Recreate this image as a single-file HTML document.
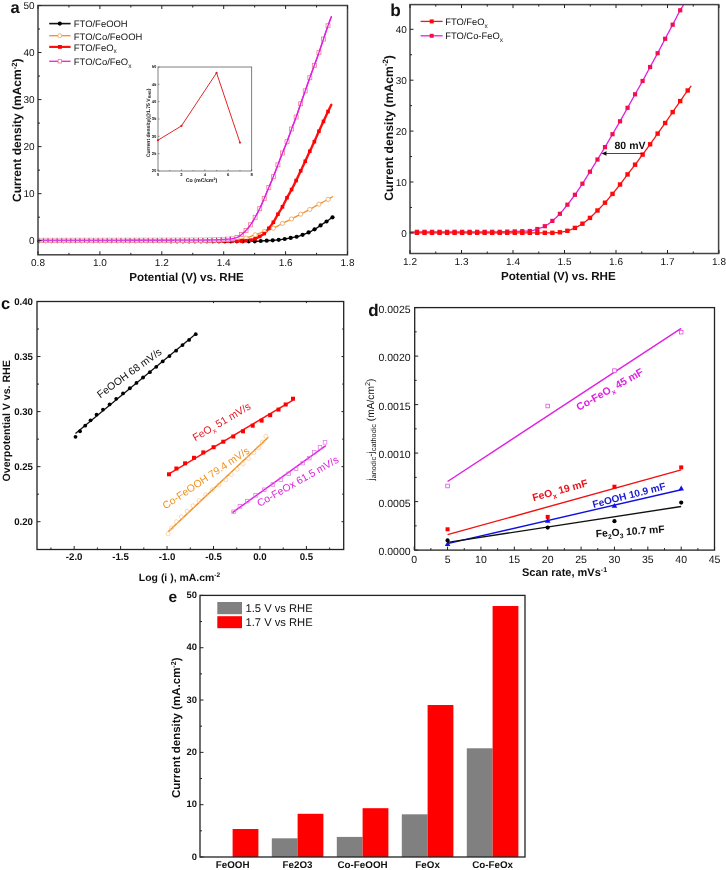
<!DOCTYPE html>
<html><head><meta charset="utf-8"><title>Figure</title>
<style>
html,body{margin:0;padding:0;background:#fff;}
body{width:726px;height:870px;overflow:hidden;font-family:"Liberation Sans",sans-serif;}
svg{display:block;will-change:transform;filter:blur(0.35px);}
</style></head>
<body>
<svg width="726" height="870" viewBox="0 0 726 870" font-family="Liberation Sans, sans-serif" text-rendering="geometricPrecision">
<rect width="726" height="870" fill="#fff"/>
<path d="M38,241.2 L38.5,241.2 L39,241.2 L39.5,241.2 L40,241.2 L40.5,241.2 L41,241.2 L41.5,241.2 L42,241.2 L42.5,241.2 L43,241.2 L43.5,241.2 L44,241.2 L44.5,241.2 L45,241.2 L45.5,241.2 L46,241.2 L46.5,241.2 L47,241.2 L47.5,241.2 L48,241.2 L48.5,241.21 L49,241.21 L49.5,241.21 L50,241.21 L50.5,241.21 L51,241.21 L51.5,241.21 L52,241.21 L52.5,241.21 L53,241.21 L53.5,241.21 L54,241.21 L54.5,241.21 L55,241.21 L55.5,241.21 L56,241.21 L56.5,241.21 L57,241.21 L57.5,241.21 L58,241.21 L58.5,241.21 L59,241.21 L59.5,241.21 L60,241.21 L60.5,241.21 L61,241.21 L61.5,241.21 L62,241.21 L62.5,241.21 L63,241.21 L63.5,241.21 L64,241.21 L64.5,241.21 L65,241.21 L65.5,241.21 L66,241.21 L66.5,241.21 L67,241.21 L67.5,241.22 L68,241.22 L68.5,241.22 L69,241.22 L69.5,241.22 L70,241.22 L70.5,241.22 L71,241.22 L71.5,241.22 L72,241.22 L72.5,241.22 L73,241.22 L73.5,241.22 L74,241.22 L74.5,241.22 L75,241.22 L75.5,241.22 L76,241.22 L76.5,241.22 L77,241.22 L77.5,241.22 L78,241.22 L78.5,241.22 L79,241.22 L79.5,241.22 L80,241.22 L80.5,241.22 L81,241.22 L81.5,241.22 L82,241.22 L82.5,241.22 L83,241.22 L83.5,241.22 L84,241.22 L84.5,241.23 L85,241.23 L85.5,241.23 L86,241.23 L86.5,241.23 L87,241.23 L87.5,241.23 L88,241.23 L88.5,241.23 L89,241.23 L89.5,241.23 L90,241.23 L90.5,241.23 L91,241.23 L91.5,241.23 L92,241.23 L92.5,241.23 L93,241.23 L93.5,241.23 L94,241.23 L94.5,241.23 L95,241.23 L95.5,241.23 L96,241.23 L96.5,241.23 L97,241.23 L97.5,241.23 L98,241.23 L98.5,241.23 L99,241.23 L99.5,241.23 L100,241.23 L100.5,241.23 L101,241.24 L101.5,241.24 L102,241.24 L102.5,241.24 L103,241.24 L103.5,241.24 L104,241.24 L104.5,241.24 L105,241.24 L105.5,241.24 L106,241.24 L106.5,241.24 L107,241.24 L107.5,241.24 L108,241.24 L108.5,241.24 L109,241.24 L109.5,241.24 L110,241.24 L110.5,241.24 L111,241.24 L111.5,241.24 L112,241.24 L112.5,241.24 L113,241.24 L113.5,241.24 L114,241.24 L114.5,241.24 L115,241.24 L115.5,241.24 L116,241.24 L116.5,241.24 L117,241.24 L117.5,241.25 L118,241.25 L118.5,241.25 L119,241.25 L119.5,241.25 L120,241.25 L120.5,241.25 L121,241.25 L121.5,241.25 L122,241.25 L122.5,241.25 L123,241.25 L123.5,241.25 L124,241.25 L124.5,241.25 L125,241.25 L125.5,241.25 L126,241.25 L126.5,241.25 L127,241.25 L127.5,241.25 L128,241.25 L128.5,241.25 L129,241.25 L129.5,241.25 L130,241.25 L130.5,241.25 L131,241.25 L131.5,241.25 L132,241.25 L132.5,241.25 L133,241.25 L133.5,241.25 L134,241.26 L134.5,241.26 L135,241.26 L135.5,241.26 L136,241.26 L136.5,241.26 L137,241.26 L137.5,241.26 L138,241.26 L138.5,241.26 L139,241.26 L139.5,241.26 L140,241.26 L140.5,241.26 L141,241.26 L141.5,241.26 L142,241.26 L142.5,241.26 L143,241.26 L143.5,241.26 L144,241.26 L144.5,241.26 L145,241.26 L145.5,241.26 L146,241.26 L146.5,241.26 L147,241.26 L147.5,241.26 L148,241.26 L148.5,241.26 L149,241.26 L149.5,241.26 L150,241.26 L150.5,241.26 L151,241.27 L151.5,241.27 L152,241.27 L152.5,241.27 L153,241.27 L153.5,241.27 L154,241.27 L154.5,241.27 L155,241.27 L155.5,241.27 L156,241.27 L156.5,241.27 L157,241.27 L157.5,241.27 L158,241.27 L158.5,241.27 L159,241.27 L159.5,241.27 L160,241.27 L160.5,241.27 L161,241.27 L161.5,241.27 L162,241.27 L162.5,241.27 L163,241.27 L163.5,241.27 L164,241.27 L164.5,241.27 L165,241.27 L165.5,241.27 L166,241.27 L166.5,241.27 L167,241.27 L167.5,241.27 L168,241.27 L168.5,241.27 L169,241.27 L169.5,241.28 L170,241.28 L170.5,241.28 L171,241.28 L171.5,241.28 L172,241.28 L172.5,241.28 L173,241.28 L173.5,241.28 L174,241.28 L174.5,241.28 L175,241.28 L175.5,241.28 L176,241.28 L176.5,241.28 L177,241.28 L177.5,241.28 L178,241.28 L178.5,241.28 L179,241.28 L179.5,241.28 L180,241.28 L180.5,241.28 L181,241.28 L181.5,241.28 L182,241.28 L182.5,241.28 L183,241.28 L183.5,241.28 L184,241.28 L184.5,241.28 L185,241.28 L185.5,241.28 L186,241.28 L186.5,241.28 L187,241.28 L187.5,241.28 L188,241.28 L188.5,241.28 L189,241.28 L189.5,241.28 L190,241.28 L190.5,241.28 L191,241.29 L191.5,241.29 L192,241.29 L192.5,241.29 L193,241.29 L193.5,241.29 L194,241.29 L194.5,241.29 L195,241.29 L195.5,241.29 L196,241.29 L196.5,241.29 L197,241.29 L197.5,241.29 L198,241.29 L198.5,241.29 L199,241.29 L199.5,241.29 L200,241.29 L200.5,241.29 L201,241.29 L201.5,241.29 L202,241.29 L202.5,241.29 L203,241.29 L203.5,241.29 L204,241.29 L204.5,241.29 L205,241.29 L205.5,241.29 L206,241.29 L206.5,241.29 L207,241.29 L207.5,241.29 L208,241.29 L208.5,241.29 L209,241.29 L209.5,241.29 L210,241.29 L210.5,241.29 L211,241.29 L211.5,241.29 L212,241.29 L212.5,241.29 L213,241.29 L213.5,241.29 L214,241.29 L214.5,241.29 L215,241.29 L215.5,241.29 L216,241.29 L216.5,241.29 L217,241.29 L217.5,241.29 L218,241.29 L218.5,241.29 L219,241.29 L219.5,241.3 L220,241.3 L220.5,241.3 L221,241.3 L221.5,241.3 L222,241.3 L222.5,241.3 L223,241.3 L223.5,241.3 L224,241.3 L224.5,241.3 L225,241.3 L225.5,241.3 L226,241.3 L226.5,241.3 L227,241.3 L227.5,241.3 L228,241.3 L228.5,241.3 L229,241.3 L229.5,241.3 L230,241.3 L230.5,241.3 L231,241.3 L231.5,241.3 L232,241.3 L232.5,241.3 L233,241.3 L233.5,241.3 L234,241.3 L234.5,241.3 L235,241.3 L235.5,241.3 L236,241.3 L236.5,241.3 L237,241.3 L237.5,241.3 L238,241.3 L238.5,241.3 L239,241.3 L239.5,241.3 L240,241.3 L240.5,241.3 L241,241.3 L241.5,241.3 L242,241.3 L242.5,241.3 L243,241.3 L243.5,241.3 L244,241.3 L244.5,241.3 L245,241.3 L245.5,241.3 L246,241.3 L246.5,241.3 L247,241.3 L247.5,241.3 L248,241.3 L248.5,241.3 L249,241.3 L249.5,241.3 L250,241.3 L250.5,241.3 L251,241.3 L251.5,241.3 L252,241.3 L252.5,241.3 L253,241.3 L253.5,241.3 L254,241.3 L254.5,241.3 L255,241.3 L255.5,241.3 L256,241.28 L256.5,241.27 L257,241.24 L257.5,241.21 L258,241.18 L258.5,241.15 L259,241.11 L259.5,241.07 L260,241.03 L260.5,241 L261,240.96 L261.5,240.93 L262,240.9 L262.5,240.87 L263,240.85 L263.5,240.82 L264,240.8 L264.5,240.77 L265,240.75 L265.5,240.73 L266,240.71 L266.5,240.68 L267,240.66 L267.5,240.64 L268,240.61 L268.5,240.59 L269,240.57 L269.5,240.54 L270,240.52 L270.5,240.49 L271,240.46 L271.5,240.44 L272,240.41 L272.5,240.38 L273,240.35 L273.5,240.31 L274,240.28 L274.5,240.24 L275,240.2 L275.5,240.16 L276,240.12 L276.5,240.07 L277,240.02 L277.5,239.97 L278,239.92 L278.5,239.87 L279,239.81 L279.5,239.76 L280,239.7 L280.5,239.64 L281,239.57 L281.5,239.51 L282,239.43 L282.5,239.36 L283,239.28 L283.5,239.2 L284,239.12 L284.5,239.04 L285,238.95 L285.5,238.87 L286,238.78 L286.5,238.7 L287,238.6 L287.5,238.51 L288,238.41 L288.5,238.32 L289,238.22 L289.5,238.12 L290,238.02 L290.5,237.92 L291,237.82 L291.5,237.72 L292,237.62 L292.5,237.53 L293,237.44 L293.5,237.35 L294,237.27 L294.5,237.18 L295,237.09 L295.5,236.99 L296,236.89 L296.5,236.78 L297,236.67 L297.5,236.55 L298,236.42 L298.5,236.28 L299,236.12 L299.5,235.96 L300,235.8 L300.5,235.63 L301,235.45 L301.5,235.27 L302,235.08 L302.5,234.9 L303,234.71 L303.5,234.53 L304,234.34 L304.5,234.14 L305,233.95 L305.5,233.75 L306,233.54 L306.5,233.34 L307,233.12 L307.5,232.91 L308,232.69 L308.5,232.46 L309,232.23 L309.5,232 L310,231.76 L310.5,231.52 L311,231.27 L311.5,231.01 L312,230.75 L312.5,230.48 L313,230.21 L313.5,229.93 L314,229.65 L314.5,229.37 L315,229.08 L315.5,228.78 L316,228.48 L316.5,228.17 L317,227.84 L317.5,227.51 L318,227.17 L318.5,226.82 L319,226.47 L319.5,226.12 L320,225.77 L320.5,225.42 L321,225.07 L321.5,224.73 L322,224.4 L322.5,224.08 L323,223.75 L323.5,223.43 L324,223.11 L324.5,222.8 L325,222.48 L325.5,222.16 L326,221.83 L326.5,221.5 L327,221.17 L327.5,220.83 L328,220.48 L328.5,220.13 L329,219.78 L329.5,219.41 L330,219.05 L330.5,218.68 L331,218.32 L331.5,217.95 L332,217.59 L332.4,217.3" fill="none" stroke="#111" stroke-width="1.4" stroke-linejoin="round" stroke-linecap="round"/>
<path d="M38,240.6 L38.5,240.6 L39,240.6 L39.5,240.6 L40,240.6 L40.5,240.6 L41,240.6 L41.5,240.59 L42,240.59 L42.5,240.59 L43,240.59 L43.5,240.59 L44,240.59 L44.5,240.59 L45,240.59 L45.5,240.59 L46,240.59 L46.5,240.59 L47,240.59 L47.5,240.59 L48,240.59 L48.5,240.59 L49,240.58 L49.5,240.58 L50,240.58 L50.5,240.58 L51,240.58 L51.5,240.58 L52,240.58 L52.5,240.58 L53,240.58 L53.5,240.58 L54,240.58 L54.5,240.58 L55,240.58 L55.5,240.58 L56,240.58 L56.5,240.58 L57,240.58 L57.5,240.57 L58,240.57 L58.5,240.57 L59,240.57 L59.5,240.57 L60,240.57 L60.5,240.57 L61,240.57 L61.5,240.57 L62,240.57 L62.5,240.57 L63,240.57 L63.5,240.57 L64,240.57 L64.5,240.57 L65,240.57 L65.5,240.57 L66,240.57 L66.5,240.57 L67,240.57 L67.5,240.56 L68,240.56 L68.5,240.56 L69,240.56 L69.5,240.56 L70,240.56 L70.5,240.56 L71,240.56 L71.5,240.56 L72,240.56 L72.5,240.56 L73,240.56 L73.5,240.56 L74,240.56 L74.5,240.56 L75,240.56 L75.5,240.56 L76,240.56 L76.5,240.56 L77,240.56 L77.5,240.56 L78,240.56 L78.5,240.56 L79,240.56 L79.5,240.56 L80,240.55 L80.5,240.55 L81,240.55 L81.5,240.55 L82,240.55 L82.5,240.55 L83,240.55 L83.5,240.55 L84,240.55 L84.5,240.55 L85,240.55 L85.5,240.55 L86,240.55 L86.5,240.55 L87,240.55 L87.5,240.55 L88,240.55 L88.5,240.55 L89,240.55 L89.5,240.55 L90,240.55 L90.5,240.55 L91,240.55 L91.5,240.55 L92,240.55 L92.5,240.55 L93,240.55 L93.5,240.55 L94,240.55 L94.5,240.55 L95,240.54 L95.5,240.54 L96,240.54 L96.5,240.54 L97,240.54 L97.5,240.54 L98,240.54 L98.5,240.54 L99,240.54 L99.5,240.54 L100,240.54 L100.5,240.54 L101,240.54 L101.5,240.54 L102,240.54 L102.5,240.54 L103,240.54 L103.5,240.54 L104,240.54 L104.5,240.54 L105,240.54 L105.5,240.54 L106,240.54 L106.5,240.54 L107,240.54 L107.5,240.54 L108,240.54 L108.5,240.54 L109,240.54 L109.5,240.54 L110,240.54 L110.5,240.54 L111,240.53 L111.5,240.53 L112,240.53 L112.5,240.53 L113,240.53 L113.5,240.53 L114,240.53 L114.5,240.53 L115,240.53 L115.5,240.53 L116,240.53 L116.5,240.53 L117,240.53 L117.5,240.53 L118,240.53 L118.5,240.53 L119,240.53 L119.5,240.53 L120,240.53 L120.5,240.53 L121,240.53 L121.5,240.53 L122,240.53 L122.5,240.53 L123,240.53 L123.5,240.53 L124,240.53 L124.5,240.53 L125,240.53 L125.5,240.52 L126,240.52 L126.5,240.52 L127,240.52 L127.5,240.52 L128,240.52 L128.5,240.52 L129,240.52 L129.5,240.52 L130,240.52 L130.5,240.52 L131,240.52 L131.5,240.52 L132,240.52 L132.5,240.52 L133,240.52 L133.5,240.52 L134,240.52 L134.5,240.52 L135,240.52 L135.5,240.52 L136,240.52 L136.5,240.52 L137,240.52 L137.5,240.52 L138,240.51 L138.5,240.51 L139,240.51 L139.5,240.51 L140,240.51 L140.5,240.51 L141,240.51 L141.5,240.51 L142,240.51 L142.5,240.51 L143,240.51 L143.5,240.51 L144,240.51 L144.5,240.51 L145,240.51 L145.5,240.51 L146,240.51 L146.5,240.51 L147,240.51 L147.5,240.51 L148,240.5 L148.5,240.5 L149,240.5 L149.5,240.5 L150,240.5 L150.5,240.5 L151,240.5 L151.5,240.5 L152,240.5 L152.5,240.5 L153,240.5 L153.5,240.5 L154,240.5 L154.5,240.5 L155,240.5 L155.5,240.5 L156,240.5 L156.5,240.5 L157,240.49 L157.5,240.49 L158,240.49 L158.5,240.49 L159,240.49 L159.5,240.49 L160,240.49 L160.5,240.49 L161,240.49 L161.5,240.49 L162,240.49 L162.5,240.49 L163,240.49 L163.5,240.49 L164,240.48 L164.5,240.48 L165,240.48 L165.5,240.48 L166,240.48 L166.5,240.48 L167,240.48 L167.5,240.48 L168,240.48 L168.5,240.48 L169,240.48 L169.5,240.48 L170,240.48 L170.5,240.47 L171,240.47 L171.5,240.47 L172,240.47 L172.5,240.47 L173,240.47 L173.5,240.47 L174,240.47 L174.5,240.47 L175,240.47 L175.5,240.47 L176,240.47 L176.5,240.46 L177,240.46 L177.5,240.46 L178,240.46 L178.5,240.46 L179,240.46 L179.5,240.46 L180,240.46 L180.5,240.46 L181,240.46 L181.5,240.45 L182,240.45 L182.5,240.45 L183,240.45 L183.5,240.45 L184,240.45 L184.5,240.45 L185,240.45 L185.5,240.45 L186,240.45 L186.5,240.44 L187,240.44 L187.5,240.44 L188,240.44 L188.5,240.44 L189,240.44 L189.5,240.44 L190,240.44 L190.5,240.44 L191,240.43 L191.5,240.43 L192,240.43 L192.5,240.43 L193,240.43 L193.5,240.43 L194,240.43 L194.5,240.43 L195,240.42 L195.5,240.42 L196,240.42 L196.5,240.42 L197,240.42 L197.5,240.42 L198,240.42 L198.5,240.42 L199,240.41 L199.5,240.41 L200,240.41 L200.5,240.41 L201,240.41 L201.5,240.41 L202,240.41 L202.5,240.4 L203,240.4 L203.5,240.4 L204,240.4 L204.5,240.4 L205,240.4 L205.5,240.4 L206,240.39 L206.5,240.39 L207,240.39 L207.5,240.39 L208,240.39 L208.5,240.39 L209,240.39 L209.5,240.38 L210,240.38 L210.5,240.38 L211,240.38 L211.5,240.38 L212,240.38 L212.5,240.37 L213,240.37 L213.5,240.37 L214,240.37 L214.5,240.37 L215,240.37 L215.5,240.36 L216,240.36 L216.5,240.36 L217,240.36 L217.5,240.36 L218,240.36 L218.5,240.35 L219,240.35 L219.5,240.35 L220,240.35 L220.5,240.35 L221,240.34 L221.5,240.34 L222,240.34 L222.5,240.34 L223,240.34 L223.5,240.33 L224,240.33 L224.5,240.33 L225,240.33 L225.5,240.33 L226,240.32 L226.5,240.32 L227,240.32 L227.5,240.32 L228,240.32 L228.5,240.31 L229,240.31 L229.5,240.31 L230,240.31 L230.5,240.31 L231,240.3 L231.5,240.3 L232,240.3 L232.5,240.29 L233,240.28 L233.5,240.25 L234,240.22 L234.5,240.18 L235,240.13 L235.5,240.07 L236,240.01 L236.5,239.94 L237,239.87 L237.5,239.8 L238,239.71 L238.5,239.63 L239,239.54 L239.5,239.46 L240,239.37 L240.5,239.27 L241,239.18 L241.5,239.09 L242,239 L242.5,238.9 L243,238.8 L243.5,238.69 L244,238.56 L244.5,238.43 L245,238.3 L245.5,238.15 L246,238 L246.5,237.85 L247,237.69 L247.5,237.52 L248,237.35 L248.5,237.18 L249,237 L249.5,236.82 L250,236.64 L250.5,236.46 L251,236.28 L251.5,236.09 L252,235.91 L252.5,235.72 L253,235.54 L253.5,235.36 L254,235.18 L254.5,235.01 L255,234.83 L255.5,234.66 L256,234.49 L256.5,234.32 L257,234.14 L257.5,233.96 L258,233.78 L258.5,233.6 L259,233.42 L259.5,233.24 L260,233.06 L260.5,232.88 L261,232.69 L261.5,232.51 L262,232.33 L262.5,232.14 L263,231.96 L263.5,231.78 L264,231.6 L264.5,231.42 L265,231.25 L265.5,231.07 L266,230.9 L266.5,230.73 L267,230.56 L267.5,230.39 L268,230.22 L268.5,230.05 L269,229.88 L269.5,229.7 L270,229.53 L270.5,229.34 L271,229.16 L271.5,228.97 L272,228.78 L272.5,228.58 L273,228.37 L273.5,228.16 L274,227.93 L274.5,227.7 L275,227.46 L275.5,227.2 L276,226.94 L276.5,226.68 L277,226.41 L277.5,226.13 L278,225.85 L278.5,225.57 L279,225.29 L279.5,225.01 L280,224.73 L280.5,224.46 L281,224.18 L281.5,223.92 L282,223.65 L282.5,223.4 L283,223.15 L283.5,222.9 L284,222.65 L284.5,222.41 L285,222.17 L285.5,221.92 L286,221.68 L286.5,221.44 L287,221.2 L287.5,220.96 L288,220.72 L288.5,220.48 L289,220.24 L289.5,220 L290,219.75 L290.5,219.5 L291,219.25 L291.5,219 L292,218.74 L292.5,218.49 L293,218.23 L293.5,217.96 L294,217.7 L294.5,217.44 L295,217.17 L295.5,216.91 L296,216.64 L296.5,216.37 L297,216.11 L297.5,215.84 L298,215.57 L298.5,215.31 L299,215.04 L299.5,214.78 L300,214.51 L300.5,214.25 L301,213.99 L301.5,213.73 L302,213.48 L302.5,213.22 L303,212.97 L303.5,212.71 L304,212.46 L304.5,212.21 L305,211.95 L305.5,211.7 L306,211.44 L306.5,211.19 L307,210.93 L307.5,210.67 L308,210.4 L308.5,210.14 L309,209.87 L309.5,209.6 L310,209.32 L310.5,209.05 L311,208.76 L311.5,208.47 L312,208.18 L312.5,207.89 L313,207.6 L313.5,207.3 L314,207.01 L314.5,206.71 L315,206.41 L315.5,206.12 L316,205.83 L316.5,205.53 L317,205.25 L317.5,204.96 L318,204.68 L318.5,204.4 L319,204.13 L319.5,203.86 L320,203.59 L320.5,203.33 L321,203.07 L321.5,202.81 L322,202.55 L322.5,202.3 L323,202.04 L323.5,201.79 L324,201.53 L324.5,201.28 L325,201.02 L325.5,200.76 L326,200.49 L326.5,200.23 L327,199.96 L327.5,199.68 L328,199.4 L328.5,199.11 L329,198.82 L329.5,198.52 L330,198.22 L330.5,197.92 L331,197.61 L331.5,197.31 L332,197 L332.5,196.7" fill="none" stroke="#f0902a" stroke-width="1.3" stroke-linejoin="round" stroke-linecap="round"/>
<path d="M38,241 L38.5,241 L39,241 L39.5,241 L40,241 L40.5,241 L41,241 L41.5,241 L42,241 L42.5,241 L43,241 L43.5,241 L44,241 L44.5,241 L45,241 L45.5,241 L46,241 L46.5,241 L47,241 L47.5,241 L48,241 L48.5,241 L49,241 L49.5,241 L50,241 L50.5,241 L51,241 L51.5,241 L52,241 L52.5,241 L53,241 L53.5,241 L54,241 L54.5,241 L55,241 L55.5,241 L56,241 L56.5,241 L57,241 L57.5,241 L58,241 L58.5,241 L59,241 L59.5,241 L60,241 L60.5,241 L61,241 L61.5,241 L62,241 L62.5,241 L63,241 L63.5,241 L64,241 L64.5,241 L65,241 L65.5,241 L66,241 L66.5,241 L67,241 L67.5,241 L68,241 L68.5,241 L69,241 L69.5,241 L70,241 L70.5,241 L71,241 L71.5,241 L72,241 L72.5,241 L73,241 L73.5,241 L74,241 L74.5,241 L75,241 L75.5,241 L76,241 L76.5,241 L77,241 L77.5,241 L78,241 L78.5,241 L79,241 L79.5,241 L80,241 L80.5,241 L81,241 L81.5,241 L82,241 L82.5,241 L83,241 L83.5,241 L84,241 L84.5,241 L85,241 L85.5,241 L86,241 L86.5,241 L87,241 L87.5,241 L88,241 L88.5,241 L89,241 L89.5,241 L90,241 L90.5,241 L91,241 L91.5,241 L92,241 L92.5,241 L93,241 L93.5,241 L94,241 L94.5,241 L95,241 L95.5,241 L96,241 L96.5,241 L97,241 L97.5,241 L98,241 L98.5,241 L99,241 L99.5,241 L100,241 L100.5,241 L101,241 L101.5,241 L102,241 L102.5,241 L103,241 L103.5,241 L104,241 L104.5,241 L105,241 L105.5,241 L106,241 L106.5,241 L107,241 L107.5,241 L108,241 L108.5,241 L109,241 L109.5,241 L110,241 L110.5,241 L111,241 L111.5,241 L112,241 L112.5,241 L113,241 L113.5,241 L114,241 L114.5,241 L115,241 L115.5,241 L116,241 L116.5,241 L117,241 L117.5,241 L118,241 L118.5,241 L119,241 L119.5,241 L120,241 L120.5,241 L121,241 L121.5,241 L122,241 L122.5,241 L123,241 L123.5,241 L124,241 L124.5,241 L125,241 L125.5,241 L126,241 L126.5,241 L127,241 L127.5,241 L128,241 L128.5,241 L129,241 L129.5,241 L130,241 L130.5,241 L131,241 L131.5,241 L132,241 L132.5,241 L133,241 L133.5,241 L134,241 L134.5,241 L135,241 L135.5,241 L136,241 L136.5,241 L137,241 L137.5,241 L138,241 L138.5,241 L139,241 L139.5,241 L140,241 L140.5,241 L141,241 L141.5,241 L142,241 L142.5,241 L143,241 L143.5,241 L144,241 L144.5,241 L145,241 L145.5,241 L146,241 L146.5,241 L147,241 L147.5,241 L148,241 L148.5,241 L149,241 L149.5,241 L150,241 L150.5,241 L151,241 L151.5,241 L152,241 L152.5,241 L153,241 L153.5,241 L154,241 L154.5,241 L155,241 L155.5,241 L156,241 L156.5,241 L157,241 L157.5,241 L158,241 L158.5,241 L159,241 L159.5,241 L160,241 L160.5,241 L161,241 L161.5,241 L162,241 L162.5,241 L163,241 L163.5,241 L164,241 L164.5,241 L165,241 L165.5,241 L166,241 L166.5,241 L167,241 L167.5,241 L168,241 L168.5,241 L169,241 L169.5,241 L170,241 L170.5,241 L171,241 L171.5,241 L172,241 L172.5,241 L173,241 L173.5,241 L174,241 L174.5,241 L175,241 L175.5,241 L176,241 L176.5,241 L177,241 L177.5,241 L178,241 L178.5,241 L179,241 L179.5,241 L180,241 L180.5,241 L181,241 L181.5,241 L182,241 L182.5,241 L183,241 L183.5,241 L184,241 L184.5,241 L185,241 L185.5,241 L186,241 L186.5,241 L187,241 L187.5,241 L188,241 L188.5,241 L189,241 L189.5,241 L190,241 L190.5,241 L191,241 L191.5,241 L192,241 L192.5,241 L193,241 L193.5,241 L194,241 L194.5,241 L195,241 L195.5,241 L196,241 L196.5,241 L197,241 L197.5,241 L198,241 L198.5,241 L199,241 L199.5,241 L200,241 L200.5,241 L201,241 L201.5,241 L202,241 L202.5,241 L203,241 L203.5,241 L204,241 L204.5,241 L205,241 L205.5,241 L206,241 L206.5,241 L207,241 L207.5,241 L208,241 L208.5,241 L209,241 L209.5,241 L210,241 L210.5,241 L211,241 L211.5,241 L212,241 L212.5,241 L213,241 L213.5,241 L214,241 L214.5,241 L215,241 L215.5,241 L216,241 L216.5,241 L217,241 L217.5,241 L218,241 L218.5,241 L219,241 L219.5,241 L220,241 L220.5,241 L221,241 L221.5,241 L222,241 L222.5,241 L223,241 L223.5,241 L224,241 L224.5,241 L225,241 L225.5,241 L226,241 L226.5,241 L227,241 L227.5,241 L228,241 L228.5,241 L229,241 L229.5,241 L230,241 L230.5,241 L231,241 L231.5,241 L232,241 L232.5,241 L233,241 L233.5,241 L234,241 L234.5,241 L235,241 L235.5,241 L236,241 L236.5,241 L237,241 L237.5,241 L238,241 L238.5,241 L239,241 L239.5,241 L240,241 L240.5,241 L241,240.99 L241.5,240.98 L242,240.97 L242.5,240.95 L243,240.93 L243.5,240.91 L244,240.88 L244.5,240.86 L245,240.83 L245.5,240.79 L246,240.76 L246.5,240.72 L247,240.68 L247.5,240.64 L248,240.6 L248.5,240.55 L249,240.48 L249.5,240.4 L250,240.3 L250.5,240.19 L251,240.07 L251.5,239.94 L252,239.81 L252.5,239.66 L253,239.51 L253.5,239.36 L254,239.2 L254.5,239.03 L255,238.84 L255.5,238.63 L256,238.4 L256.5,238.16 L257,237.9 L257.5,237.64 L258,237.37 L258.5,237.1 L259,236.82 L259.5,236.54 L260,236.27 L260.5,235.99 L261,235.71 L261.5,235.42 L262,235.11 L262.5,234.8 L263,234.46 L263.5,234.1 L264,233.72 L264.5,233.32 L265,232.85 L265.5,232.34 L266,231.78 L266.5,231.18 L267,230.56 L267.5,229.92 L268,229.28 L268.5,228.65 L269,228.03 L269.5,227.41 L270,226.79 L270.5,226.17 L271,225.53 L271.5,224.88 L272,224.21 L272.5,223.51 L273,222.8 L273.5,222.05 L274,221.25 L274.5,220.4 L275,219.51 L275.5,218.59 L276,217.66 L276.5,216.74 L277,215.83 L277.5,214.94 L278,214.1 L278.5,213.28 L279,212.48 L279.5,211.69 L280,210.91 L280.5,210.12 L281,209.31 L281.5,208.49 L282,207.63 L282.5,206.74 L283,205.79 L283.5,204.8 L284,203.78 L284.5,202.75 L285,201.71 L285.5,200.68 L286,199.67 L286.5,198.69 L287,197.75 L287.5,196.83 L288,195.93 L288.5,195.05 L289,194.17 L289.5,193.29 L290,192.41 L290.5,191.52 L291,190.61 L291.5,189.69 L292,188.74 L292.5,187.78 L293,186.81 L293.5,185.83 L294,184.84 L294.5,183.84 L295,182.83 L295.5,181.82 L296,180.8 L296.5,179.78 L297,178.74 L297.5,177.69 L298,176.63 L298.5,175.57 L299,174.5 L299.5,173.44 L300,172.37 L300.5,171.31 L301,170.26 L301.5,169.2 L302,168.15 L302.5,167.1 L303,166.05 L303.5,165 L304,163.94 L304.5,162.87 L305,161.8 L305.5,160.72 L306,159.62 L306.5,158.51 L307,157.4 L307.5,156.29 L308,155.18 L308.5,154.08 L309,152.98 L309.5,151.9 L310,150.83 L310.5,149.78 L311,148.73 L311.5,147.69 L312,146.65 L312.5,145.6 L313,144.55 L313.5,143.48 L314,142.4 L314.5,141.3 L315,140.17 L315.5,139.04 L316,137.89 L316.5,136.75 L317,135.6 L317.5,134.45 L318,133.32 L318.5,132.2 L319,131.09 L319.5,129.99 L320,128.9 L320.5,127.81 L321,126.73 L321.5,125.65 L322,124.56 L322.5,123.48 L323,122.4 L323.5,121.31 L324,120.23 L324.5,119.14 L325,118.05 L325.5,116.96 L326,115.88 L326.5,114.8 L327,113.72 L327.5,112.66 L328,111.6 L328.5,110.55 L329,109.52 L329.5,108.49 L330,107.46 L330.5,106.44 L331,105.42 L331.3,104.8" fill="none" stroke="#ff1010" stroke-width="2.4" stroke-linejoin="round" stroke-linecap="round"/>
<path d="M38,240.4 L38.5,240.4 L39,240.4 L39.5,240.4 L40,240.4 L40.5,240.4 L41,240.39 L41.5,240.39 L42,240.39 L42.5,240.39 L43,240.39 L43.5,240.39 L44,240.39 L44.5,240.39 L45,240.39 L45.5,240.39 L46,240.39 L46.5,240.39 L47,240.38 L47.5,240.38 L48,240.38 L48.5,240.38 L49,240.38 L49.5,240.38 L50,240.38 L50.5,240.38 L51,240.38 L51.5,240.38 L52,240.38 L52.5,240.38 L53,240.38 L53.5,240.37 L54,240.37 L54.5,240.37 L55,240.37 L55.5,240.37 L56,240.37 L56.5,240.37 L57,240.37 L57.5,240.37 L58,240.37 L58.5,240.37 L59,240.37 L59.5,240.37 L60,240.37 L60.5,240.37 L61,240.36 L61.5,240.36 L62,240.36 L62.5,240.36 L63,240.36 L63.5,240.36 L64,240.36 L64.5,240.36 L65,240.36 L65.5,240.36 L66,240.36 L66.5,240.36 L67,240.36 L67.5,240.36 L68,240.36 L68.5,240.36 L69,240.35 L69.5,240.35 L70,240.35 L70.5,240.35 L71,240.35 L71.5,240.35 L72,240.35 L72.5,240.35 L73,240.35 L73.5,240.35 L74,240.35 L74.5,240.35 L75,240.35 L75.5,240.35 L76,240.35 L76.5,240.35 L77,240.35 L77.5,240.35 L78,240.35 L78.5,240.34 L79,240.34 L79.5,240.34 L80,240.34 L80.5,240.34 L81,240.34 L81.5,240.34 L82,240.34 L82.5,240.34 L83,240.34 L83.5,240.34 L84,240.34 L84.5,240.34 L85,240.34 L85.5,240.34 L86,240.34 L86.5,240.34 L87,240.34 L87.5,240.34 L88,240.33 L88.5,240.33 L89,240.33 L89.5,240.33 L90,240.33 L90.5,240.33 L91,240.33 L91.5,240.33 L92,240.33 L92.5,240.33 L93,240.33 L93.5,240.33 L94,240.33 L94.5,240.33 L95,240.33 L95.5,240.33 L96,240.33 L96.5,240.33 L97,240.33 L97.5,240.33 L98,240.32 L98.5,240.32 L99,240.32 L99.5,240.32 L100,240.32 L100.5,240.32 L101,240.32 L101.5,240.32 L102,240.32 L102.5,240.32 L103,240.32 L103.5,240.32 L104,240.32 L104.5,240.32 L105,240.32 L105.5,240.32 L106,240.32 L106.5,240.32 L107,240.32 L107.5,240.32 L108,240.31 L108.5,240.31 L109,240.31 L109.5,240.31 L110,240.31 L110.5,240.31 L111,240.31 L111.5,240.31 L112,240.31 L112.5,240.31 L113,240.31 L113.5,240.31 L114,240.31 L114.5,240.31 L115,240.31 L115.5,240.31 L116,240.31 L116.5,240.31 L117,240.3 L117.5,240.3 L118,240.3 L118.5,240.3 L119,240.3 L119.5,240.3 L120,240.3 L120.5,240.3 L121,240.3 L121.5,240.3 L122,240.3 L122.5,240.3 L123,240.3 L123.5,240.3 L124,240.3 L124.5,240.3 L125,240.29 L125.5,240.29 L126,240.29 L126.5,240.29 L127,240.29 L127.5,240.29 L128,240.29 L128.5,240.29 L129,240.29 L129.5,240.29 L130,240.29 L130.5,240.29 L131,240.29 L131.5,240.29 L132,240.28 L132.5,240.28 L133,240.28 L133.5,240.28 L134,240.28 L134.5,240.28 L135,240.28 L135.5,240.28 L136,240.28 L136.5,240.28 L137,240.28 L137.5,240.28 L138,240.28 L138.5,240.27 L139,240.27 L139.5,240.27 L140,240.27 L140.5,240.27 L141,240.27 L141.5,240.27 L142,240.27 L142.5,240.27 L143,240.27 L143.5,240.27 L144,240.27 L144.5,240.26 L145,240.26 L145.5,240.26 L146,240.26 L146.5,240.26 L147,240.26 L147.5,240.26 L148,240.26 L148.5,240.26 L149,240.26 L149.5,240.26 L150,240.25 L150.5,240.25 L151,240.25 L151.5,240.25 L152,240.25 L152.5,240.25 L153,240.25 L153.5,240.25 L154,240.25 L154.5,240.24 L155,240.24 L155.5,240.24 L156,240.24 L156.5,240.24 L157,240.24 L157.5,240.24 L158,240.24 L158.5,240.24 L159,240.23 L159.5,240.23 L160,240.23 L160.5,240.23 L161,240.23 L161.5,240.23 L162,240.23 L162.5,240.23 L163,240.23 L163.5,240.22 L164,240.22 L164.5,240.22 L165,240.22 L165.5,240.22 L166,240.22 L166.5,240.22 L167,240.22 L167.5,240.21 L168,240.21 L168.5,240.21 L169,240.21 L169.5,240.21 L170,240.21 L170.5,240.21 L171,240.2 L171.5,240.2 L172,240.2 L172.5,240.2 L173,240.2 L173.5,240.2 L174,240.2 L174.5,240.19 L175,240.19 L175.5,240.19 L176,240.19 L176.5,240.19 L177,240.19 L177.5,240.18 L178,240.18 L178.5,240.18 L179,240.18 L179.5,240.18 L180,240.18 L180.5,240.18 L181,240.17 L181.5,240.17 L182,240.17 L182.5,240.17 L183,240.17 L183.5,240.16 L184,240.16 L184.5,240.16 L185,240.16 L185.5,240.16 L186,240.16 L186.5,240.15 L187,240.15 L187.5,240.15 L188,240.15 L188.5,240.15 L189,240.15 L189.5,240.14 L190,240.14 L190.5,240.14 L191,240.14 L191.5,240.14 L192,240.13 L192.5,240.13 L193,240.13 L193.5,240.13 L194,240.13 L194.5,240.12 L195,240.12 L195.5,240.12 L196,240.12 L196.5,240.12 L197,240.11 L197.5,240.11 L198,240.11 L198.5,240.11 L199,240.1 L199.5,240.1 L200,240.1 L200.5,240.1 L201,240.09 L201.5,240.09 L202,240.09 L202.5,240.08 L203,240.08 L203.5,240.07 L204,240.07 L204.5,240.06 L205,240.05 L205.5,240.05 L206,240.04 L206.5,240.03 L207,240.02 L207.5,240.01 L208,240.01 L208.5,240 L209,239.98 L209.5,239.97 L210,239.96 L210.5,239.95 L211,239.94 L211.5,239.92 L212,239.91 L212.5,239.9 L213,239.88 L213.5,239.87 L214,239.85 L214.5,239.84 L215,239.82 L215.5,239.8 L216,239.79 L216.5,239.77 L217,239.75 L217.5,239.73 L218,239.71 L218.5,239.69 L219,239.67 L219.5,239.65 L220,239.63 L220.5,239.6 L221,239.58 L221.5,239.56 L222,239.53 L222.5,239.51 L223,239.48 L223.5,239.46 L224,239.43 L224.5,239.4 L225,239.38 L225.5,239.35 L226,239.32 L226.5,239.29 L227,239.26 L227.5,239.23 L228,239.2 L228.5,239.17 L229,239.12 L229.5,239.07 L230,239.02 L230.5,238.95 L231,238.88 L231.5,238.8 L232,238.72 L232.5,238.63 L233,238.53 L233.5,238.42 L234,238.31 L234.5,238.19 L235,238.07 L235.5,237.94 L236,237.8 L236.5,237.64 L237,237.43 L237.5,237.19 L238,236.91 L238.5,236.61 L239,236.28 L239.5,235.94 L240,235.59 L240.5,235.23 L241,234.87 L241.5,234.51 L242,234.12 L242.5,233.71 L243,233.29 L243.5,232.84 L244,232.38 L244.5,231.9 L245,231.41 L245.5,230.91 L246,230.39 L246.5,229.86 L247,229.31 L247.5,228.75 L248,228.16 L248.5,227.56 L249,226.93 L249.5,226.29 L250,225.62 L250.5,224.94 L251,224.23 L251.5,223.48 L252,222.7 L252.5,221.89 L253,221.06 L253.5,220.2 L254,219.34 L254.5,218.46 L255,217.58 L255.5,216.69 L256,215.78 L256.5,214.86 L257,213.93 L257.5,212.98 L258,212.01 L258.5,211.03 L259,210.04 L259.5,209.02 L260,207.99 L260.5,206.94 L261,205.86 L261.5,204.76 L262,203.64 L262.5,202.5 L263,201.35 L263.5,200.19 L264,199.03 L264.5,197.87 L265,196.69 L265.5,195.49 L266,194.28 L266.5,193.06 L267,191.83 L267.5,190.61 L268,189.39 L268.5,188.18 L269,186.99 L269.5,185.81 L270,184.64 L270.5,183.48 L271,182.32 L271.5,181.15 L272,179.98 L272.5,178.79 L273,177.58 L273.5,176.35 L274,175.09 L274.5,173.81 L275,172.51 L275.5,171.2 L276,169.88 L276.5,168.56 L277,167.24 L277.5,165.92 L278,164.62 L278.5,163.31 L279,161.99 L279.5,160.68 L280,159.36 L280.5,158.05 L281,156.75 L281.5,155.45 L282,154.17 L282.5,152.89 L283,151.64 L283.5,150.41 L284,149.2 L284.5,147.98 L285,146.77 L285.5,145.55 L286,144.31 L286.5,143.05 L287,141.76 L287.5,140.44 L288,139.08 L288.5,137.69 L289,136.29 L289.5,134.87 L290,133.45 L290.5,132.04 L291,130.65 L291.5,129.27 L292,127.93 L292.5,126.6 L293,125.3 L293.5,124.01 L294,122.71 L294.5,121.42 L295,120.11 L295.5,118.78 L296,117.43 L296.5,116.04 L297,114.62 L297.5,113.17 L298,111.69 L298.5,110.2 L299,108.71 L299.5,107.22 L300,105.74 L300.5,104.28 L301,102.84 L301.5,101.42 L302,100 L302.5,98.6 L303,97.2 L303.5,95.8 L304,94.39 L304.5,92.99 L305,91.57 L305.5,90.14 L306,88.7 L306.5,87.25 L307,85.79 L307.5,84.33 L308,82.88 L308.5,81.43 L309,80 L309.5,78.58 L310,77.18 L310.5,75.8 L311,74.43 L311.5,73.07 L312,71.72 L312.5,70.37 L313,69.02 L313.5,67.66 L314,66.3 L314.5,64.92 L315,63.55 L315.5,62.18 L316,60.8 L316.5,59.42 L317,58.04 L317.5,56.65 L318,55.25 L318.5,53.83 L319,52.4 L319.5,50.95 L320,49.48 L320.5,47.99 L321,46.49 L321.5,44.99 L322,43.48 L322.5,41.98 L323,40.49 L323.5,39 L324,37.52 L324.5,36.04 L325,34.55 L325.5,33.06 L326,31.59 L326.5,30.12 L327,28.66 L327.5,27.22 L328,25.8 L328.5,24.4 L329,23.03 L329.5,21.67 L330,20.32 L330.5,18.97 L331,17.62 L331.3,16.8" fill="none" stroke="#e81ee8" stroke-width="1.3" stroke-linejoin="round" stroke-linecap="round"/>
<circle cx="39.5" cy="241.2" r="2.1" fill="#000" stroke="none" stroke-width="1"/>
<circle cx="45.48" cy="241.2" r="2.1" fill="#000" stroke="none" stroke-width="1"/>
<circle cx="51.46" cy="241.21" r="2.1" fill="#000" stroke="none" stroke-width="1"/>
<circle cx="57.44" cy="241.21" r="2.1" fill="#000" stroke="none" stroke-width="1"/>
<circle cx="63.42" cy="241.21" r="2.1" fill="#000" stroke="none" stroke-width="1"/>
<circle cx="69.4" cy="241.22" r="2.1" fill="#000" stroke="none" stroke-width="1"/>
<circle cx="75.38" cy="241.22" r="2.1" fill="#000" stroke="none" stroke-width="1"/>
<circle cx="81.36" cy="241.22" r="2.1" fill="#000" stroke="none" stroke-width="1"/>
<circle cx="87.34" cy="241.23" r="2.1" fill="#000" stroke="none" stroke-width="1"/>
<circle cx="93.32" cy="241.23" r="2.1" fill="#000" stroke="none" stroke-width="1"/>
<circle cx="99.3" cy="241.23" r="2.1" fill="#000" stroke="none" stroke-width="1"/>
<circle cx="105.28" cy="241.24" r="2.1" fill="#000" stroke="none" stroke-width="1"/>
<circle cx="111.26" cy="241.24" r="2.1" fill="#000" stroke="none" stroke-width="1"/>
<circle cx="117.24" cy="241.24" r="2.1" fill="#000" stroke="none" stroke-width="1"/>
<circle cx="123.22" cy="241.25" r="2.1" fill="#000" stroke="none" stroke-width="1"/>
<circle cx="129.2" cy="241.25" r="2.1" fill="#000" stroke="none" stroke-width="1"/>
<circle cx="135.18" cy="241.26" r="2.1" fill="#000" stroke="none" stroke-width="1"/>
<circle cx="141.16" cy="241.26" r="2.1" fill="#000" stroke="none" stroke-width="1"/>
<circle cx="147.14" cy="241.26" r="2.1" fill="#000" stroke="none" stroke-width="1"/>
<circle cx="153.12" cy="241.27" r="2.1" fill="#000" stroke="none" stroke-width="1"/>
<circle cx="159.1" cy="241.27" r="2.1" fill="#000" stroke="none" stroke-width="1"/>
<circle cx="165.08" cy="241.27" r="2.1" fill="#000" stroke="none" stroke-width="1"/>
<circle cx="171.06" cy="241.28" r="2.1" fill="#000" stroke="none" stroke-width="1"/>
<circle cx="177.04" cy="241.28" r="2.1" fill="#000" stroke="none" stroke-width="1"/>
<circle cx="183.02" cy="241.28" r="2.1" fill="#000" stroke="none" stroke-width="1"/>
<circle cx="189" cy="241.28" r="2.1" fill="#000" stroke="none" stroke-width="1"/>
<circle cx="194.98" cy="241.29" r="2.1" fill="#000" stroke="none" stroke-width="1"/>
<circle cx="200.96" cy="241.29" r="2.1" fill="#000" stroke="none" stroke-width="1"/>
<circle cx="206.94" cy="241.29" r="2.1" fill="#000" stroke="none" stroke-width="1"/>
<circle cx="212.92" cy="241.29" r="2.1" fill="#000" stroke="none" stroke-width="1"/>
<circle cx="218.9" cy="241.29" r="2.1" fill="#000" stroke="none" stroke-width="1"/>
<circle cx="224.88" cy="241.3" r="2.1" fill="#000" stroke="none" stroke-width="1"/>
<circle cx="230.86" cy="241.3" r="2.1" fill="#000" stroke="none" stroke-width="1"/>
<circle cx="236.84" cy="241.3" r="2.1" fill="#000" stroke="none" stroke-width="1"/>
<circle cx="242.82" cy="241.3" r="2.1" fill="#000" stroke="none" stroke-width="1"/>
<circle cx="248.8" cy="241.3" r="2.1" fill="#000" stroke="none" stroke-width="1"/>
<circle cx="254.78" cy="241.3" r="2.1" fill="#000" stroke="none" stroke-width="1"/>
<circle cx="260.76" cy="240.98" r="2.1" fill="#000" stroke="none" stroke-width="1"/>
<circle cx="266.74" cy="240.67" r="2.1" fill="#000" stroke="none" stroke-width="1"/>
<circle cx="272.72" cy="240.36" r="2.1" fill="#000" stroke="none" stroke-width="1"/>
<circle cx="278.7" cy="239.85" r="2.1" fill="#000" stroke="none" stroke-width="1"/>
<circle cx="284.68" cy="239.01" r="2.1" fill="#000" stroke="none" stroke-width="1"/>
<circle cx="290.66" cy="237.88" r="2.1" fill="#000" stroke="none" stroke-width="1"/>
<circle cx="296.64" cy="236.75" r="2.1" fill="#000" stroke="none" stroke-width="1"/>
<circle cx="302.62" cy="234.85" r="2.1" fill="#000" stroke="none" stroke-width="1"/>
<circle cx="308.6" cy="232.42" r="2.1" fill="#000" stroke="none" stroke-width="1"/>
<circle cx="314.58" cy="229.32" r="2.1" fill="#000" stroke="none" stroke-width="1"/>
<circle cx="320.56" cy="225.38" r="2.1" fill="#000" stroke="none" stroke-width="1"/>
<circle cx="326.54" cy="221.48" r="2.1" fill="#000" stroke="none" stroke-width="1"/>
<circle cx="332.52" cy="217.3" r="2.1" fill="#000" stroke="none" stroke-width="1"/>
<circle cx="45.56" cy="240.59" r="2.1" fill="#fff" stroke="#f0a050" stroke-width="0.8"/>
<circle cx="54.67" cy="240.58" r="2.1" fill="#fff" stroke="#f0a050" stroke-width="0.8"/>
<circle cx="63.78" cy="240.57" r="2.1" fill="#fff" stroke="#f0a050" stroke-width="0.8"/>
<circle cx="72.89" cy="240.56" r="2.1" fill="#fff" stroke="#f0a050" stroke-width="0.8"/>
<circle cx="82" cy="240.55" r="2.1" fill="#fff" stroke="#f0a050" stroke-width="0.8"/>
<circle cx="91.12" cy="240.55" r="2.1" fill="#fff" stroke="#f0a050" stroke-width="0.8"/>
<circle cx="100.23" cy="240.54" r="2.1" fill="#fff" stroke="#f0a050" stroke-width="0.8"/>
<circle cx="109.34" cy="240.54" r="2.1" fill="#fff" stroke="#f0a050" stroke-width="0.8"/>
<circle cx="118.45" cy="240.53" r="2.1" fill="#fff" stroke="#f0a050" stroke-width="0.8"/>
<circle cx="127.56" cy="240.52" r="2.1" fill="#fff" stroke="#f0a050" stroke-width="0.8"/>
<circle cx="136.68" cy="240.52" r="2.1" fill="#fff" stroke="#f0a050" stroke-width="0.8"/>
<circle cx="145.79" cy="240.51" r="2.1" fill="#fff" stroke="#f0a050" stroke-width="0.8"/>
<circle cx="154.9" cy="240.5" r="2.1" fill="#fff" stroke="#f0a050" stroke-width="0.8"/>
<circle cx="164.01" cy="240.48" r="2.1" fill="#fff" stroke="#f0a050" stroke-width="0.8"/>
<circle cx="173.12" cy="240.47" r="2.1" fill="#fff" stroke="#f0a050" stroke-width="0.8"/>
<circle cx="182.24" cy="240.45" r="2.1" fill="#fff" stroke="#f0a050" stroke-width="0.8"/>
<circle cx="191.35" cy="240.43" r="2.1" fill="#fff" stroke="#f0a050" stroke-width="0.8"/>
<circle cx="200.46" cy="240.41" r="2.1" fill="#fff" stroke="#f0a050" stroke-width="0.8"/>
<circle cx="209.57" cy="240.38" r="2.1" fill="#fff" stroke="#f0a050" stroke-width="0.8"/>
<circle cx="218.68" cy="240.35" r="2.1" fill="#fff" stroke="#f0a050" stroke-width="0.8"/>
<circle cx="227.8" cy="240.32" r="2.1" fill="#fff" stroke="#f0a050" stroke-width="0.8"/>
<circle cx="236.91" cy="239.89" r="2.1" fill="#fff" stroke="#f0a050" stroke-width="0.8"/>
<circle cx="246.02" cy="238" r="2.1" fill="#fff" stroke="#f0a050" stroke-width="0.8"/>
<circle cx="255.13" cy="234.79" r="2.1" fill="#fff" stroke="#f0a050" stroke-width="0.8"/>
<circle cx="264.24" cy="231.51" r="2.1" fill="#fff" stroke="#f0a050" stroke-width="0.8"/>
<circle cx="273.36" cy="228.22" r="2.1" fill="#fff" stroke="#f0a050" stroke-width="0.8"/>
<circle cx="282.47" cy="223.41" r="2.1" fill="#fff" stroke="#f0a050" stroke-width="0.8"/>
<circle cx="291.58" cy="218.96" r="2.1" fill="#fff" stroke="#f0a050" stroke-width="0.8"/>
<circle cx="300.69" cy="214.15" r="2.1" fill="#fff" stroke="#f0a050" stroke-width="0.8"/>
<circle cx="309.8" cy="209.43" r="2.1" fill="#fff" stroke="#f0a050" stroke-width="0.8"/>
<circle cx="318.92" cy="204.17" r="2.1" fill="#fff" stroke="#f0a050" stroke-width="0.8"/>
<circle cx="328.03" cy="199.38" r="2.1" fill="#fff" stroke="#f0a050" stroke-width="0.8"/>
<rect x="39.2" y="239.2" width="3.6" height="3.6" fill="#ff0000" stroke="none" stroke-width="1"/>
<rect x="43.76" y="239.2" width="3.6" height="3.6" fill="#ff0000" stroke="none" stroke-width="1"/>
<rect x="48.31" y="239.2" width="3.6" height="3.6" fill="#ff0000" stroke="none" stroke-width="1"/>
<rect x="52.87" y="239.2" width="3.6" height="3.6" fill="#ff0000" stroke="none" stroke-width="1"/>
<rect x="57.42" y="239.2" width="3.6" height="3.6" fill="#ff0000" stroke="none" stroke-width="1"/>
<rect x="61.98" y="239.2" width="3.6" height="3.6" fill="#ff0000" stroke="none" stroke-width="1"/>
<rect x="66.54" y="239.2" width="3.6" height="3.6" fill="#ff0000" stroke="none" stroke-width="1"/>
<rect x="71.09" y="239.2" width="3.6" height="3.6" fill="#ff0000" stroke="none" stroke-width="1"/>
<rect x="75.65" y="239.2" width="3.6" height="3.6" fill="#ff0000" stroke="none" stroke-width="1"/>
<rect x="80.2" y="239.2" width="3.6" height="3.6" fill="#ff0000" stroke="none" stroke-width="1"/>
<rect x="84.76" y="239.2" width="3.6" height="3.6" fill="#ff0000" stroke="none" stroke-width="1"/>
<rect x="89.32" y="239.2" width="3.6" height="3.6" fill="#ff0000" stroke="none" stroke-width="1"/>
<rect x="93.87" y="239.2" width="3.6" height="3.6" fill="#ff0000" stroke="none" stroke-width="1"/>
<rect x="98.43" y="239.2" width="3.6" height="3.6" fill="#ff0000" stroke="none" stroke-width="1"/>
<rect x="102.98" y="239.2" width="3.6" height="3.6" fill="#ff0000" stroke="none" stroke-width="1"/>
<rect x="107.54" y="239.2" width="3.6" height="3.6" fill="#ff0000" stroke="none" stroke-width="1"/>
<rect x="112.1" y="239.2" width="3.6" height="3.6" fill="#ff0000" stroke="none" stroke-width="1"/>
<rect x="116.65" y="239.2" width="3.6" height="3.6" fill="#ff0000" stroke="none" stroke-width="1"/>
<rect x="121.21" y="239.2" width="3.6" height="3.6" fill="#ff0000" stroke="none" stroke-width="1"/>
<rect x="125.76" y="239.2" width="3.6" height="3.6" fill="#ff0000" stroke="none" stroke-width="1"/>
<rect x="130.32" y="239.2" width="3.6" height="3.6" fill="#ff0000" stroke="none" stroke-width="1"/>
<rect x="134.88" y="239.2" width="3.6" height="3.6" fill="#ff0000" stroke="none" stroke-width="1"/>
<rect x="139.43" y="239.2" width="3.6" height="3.6" fill="#ff0000" stroke="none" stroke-width="1"/>
<rect x="143.99" y="239.2" width="3.6" height="3.6" fill="#ff0000" stroke="none" stroke-width="1"/>
<rect x="148.54" y="239.2" width="3.6" height="3.6" fill="#ff0000" stroke="none" stroke-width="1"/>
<rect x="153.1" y="239.2" width="3.6" height="3.6" fill="#ff0000" stroke="none" stroke-width="1"/>
<rect x="157.66" y="239.2" width="3.6" height="3.6" fill="#ff0000" stroke="none" stroke-width="1"/>
<rect x="162.21" y="239.2" width="3.6" height="3.6" fill="#ff0000" stroke="none" stroke-width="1"/>
<rect x="166.77" y="239.2" width="3.6" height="3.6" fill="#ff0000" stroke="none" stroke-width="1"/>
<rect x="171.32" y="239.2" width="3.6" height="3.6" fill="#ff0000" stroke="none" stroke-width="1"/>
<rect x="175.88" y="239.2" width="3.6" height="3.6" fill="#ff0000" stroke="none" stroke-width="1"/>
<rect x="180.44" y="239.2" width="3.6" height="3.6" fill="#ff0000" stroke="none" stroke-width="1"/>
<rect x="184.99" y="239.2" width="3.6" height="3.6" fill="#ff0000" stroke="none" stroke-width="1"/>
<rect x="189.55" y="239.2" width="3.6" height="3.6" fill="#ff0000" stroke="none" stroke-width="1"/>
<rect x="194.1" y="239.2" width="3.6" height="3.6" fill="#ff0000" stroke="none" stroke-width="1"/>
<rect x="198.66" y="239.2" width="3.6" height="3.6" fill="#ff0000" stroke="none" stroke-width="1"/>
<rect x="203.22" y="239.2" width="3.6" height="3.6" fill="#ff0000" stroke="none" stroke-width="1"/>
<rect x="207.77" y="239.2" width="3.6" height="3.6" fill="#ff0000" stroke="none" stroke-width="1"/>
<rect x="212.33" y="239.2" width="3.6" height="3.6" fill="#ff0000" stroke="none" stroke-width="1"/>
<rect x="216.88" y="239.2" width="3.6" height="3.6" fill="#ff0000" stroke="none" stroke-width="1"/>
<rect x="221.44" y="239.2" width="3.6" height="3.6" fill="#ff0000" stroke="none" stroke-width="1"/>
<rect x="226" y="239.2" width="3.6" height="3.6" fill="#ff0000" stroke="none" stroke-width="1"/>
<rect x="230.55" y="239.2" width="3.6" height="3.6" fill="#ff0000" stroke="none" stroke-width="1"/>
<rect x="235.11" y="239.2" width="3.6" height="3.6" fill="#ff0000" stroke="none" stroke-width="1"/>
<rect x="239.66" y="239.18" width="3.6" height="3.6" fill="#ff0000" stroke="none" stroke-width="1"/>
<rect x="244.22" y="238.96" width="3.6" height="3.6" fill="#ff0000" stroke="none" stroke-width="1"/>
<rect x="248.78" y="238.38" width="3.6" height="3.6" fill="#ff0000" stroke="none" stroke-width="1"/>
<rect x="253.33" y="236.98" width="3.6" height="3.6" fill="#ff0000" stroke="none" stroke-width="1"/>
<rect x="257.89" y="234.64" width="3.6" height="3.6" fill="#ff0000" stroke="none" stroke-width="1"/>
<rect x="262.44" y="231.73" width="3.6" height="3.6" fill="#ff0000" stroke="none" stroke-width="1"/>
<rect x="267" y="226.48" width="3.6" height="3.6" fill="#ff0000" stroke="none" stroke-width="1"/>
<rect x="271.56" y="220.47" width="3.6" height="3.6" fill="#ff0000" stroke="none" stroke-width="1"/>
<rect x="276.11" y="212.44" width="3.6" height="3.6" fill="#ff0000" stroke="none" stroke-width="1"/>
<rect x="280.67" y="204.99" width="3.6" height="3.6" fill="#ff0000" stroke="none" stroke-width="1"/>
<rect x="285.22" y="195.91" width="3.6" height="3.6" fill="#ff0000" stroke="none" stroke-width="1"/>
<rect x="289.78" y="187.74" width="3.6" height="3.6" fill="#ff0000" stroke="none" stroke-width="1"/>
<rect x="294.34" y="178.73" width="3.6" height="3.6" fill="#ff0000" stroke="none" stroke-width="1"/>
<rect x="298.89" y="169.11" width="3.6" height="3.6" fill="#ff0000" stroke="none" stroke-width="1"/>
<rect x="303.45" y="159.46" width="3.6" height="3.6" fill="#ff0000" stroke="none" stroke-width="1"/>
<rect x="308" y="149.45" width="3.6" height="3.6" fill="#ff0000" stroke="none" stroke-width="1"/>
<rect x="312.56" y="139.81" width="3.6" height="3.6" fill="#ff0000" stroke="none" stroke-width="1"/>
<rect x="317.12" y="129.48" width="3.6" height="3.6" fill="#ff0000" stroke="none" stroke-width="1"/>
<rect x="321.67" y="119.57" width="3.6" height="3.6" fill="#ff0000" stroke="none" stroke-width="1"/>
<rect x="326.23" y="109.74" width="3.6" height="3.6" fill="#ff0000" stroke="none" stroke-width="1"/>
<rect x="38.8" y="238.19" width="4.4" height="4.4" fill="#fff" stroke="#f0a0b8" stroke-width="0.7"/>
<rect x="43.36" y="238.19" width="4.4" height="4.4" fill="#fff" stroke="#f0a0b8" stroke-width="0.7"/>
<rect x="47.91" y="238.18" width="4.4" height="4.4" fill="#fff" stroke="#f0a0b8" stroke-width="0.7"/>
<rect x="52.47" y="238.17" width="4.4" height="4.4" fill="#fff" stroke="#f0a0b8" stroke-width="0.7"/>
<rect x="57.02" y="238.17" width="4.4" height="4.4" fill="#fff" stroke="#f0a0b8" stroke-width="0.7"/>
<rect x="61.58" y="238.16" width="4.4" height="4.4" fill="#fff" stroke="#f0a0b8" stroke-width="0.7"/>
<rect x="66.14" y="238.16" width="4.4" height="4.4" fill="#fff" stroke="#f0a0b8" stroke-width="0.7"/>
<rect x="70.69" y="238.15" width="4.4" height="4.4" fill="#fff" stroke="#f0a0b8" stroke-width="0.7"/>
<rect x="75.25" y="238.15" width="4.4" height="4.4" fill="#fff" stroke="#f0a0b8" stroke-width="0.7"/>
<rect x="79.8" y="238.14" width="4.4" height="4.4" fill="#fff" stroke="#f0a0b8" stroke-width="0.7"/>
<rect x="84.36" y="238.14" width="4.4" height="4.4" fill="#fff" stroke="#f0a0b8" stroke-width="0.7"/>
<rect x="88.92" y="238.13" width="4.4" height="4.4" fill="#fff" stroke="#f0a0b8" stroke-width="0.7"/>
<rect x="93.47" y="238.13" width="4.4" height="4.4" fill="#fff" stroke="#f0a0b8" stroke-width="0.7"/>
<rect x="98.03" y="238.12" width="4.4" height="4.4" fill="#fff" stroke="#f0a0b8" stroke-width="0.7"/>
<rect x="102.58" y="238.12" width="4.4" height="4.4" fill="#fff" stroke="#f0a0b8" stroke-width="0.7"/>
<rect x="107.14" y="238.11" width="4.4" height="4.4" fill="#fff" stroke="#f0a0b8" stroke-width="0.7"/>
<rect x="111.7" y="238.11" width="4.4" height="4.4" fill="#fff" stroke="#f0a0b8" stroke-width="0.7"/>
<rect x="116.25" y="238.1" width="4.4" height="4.4" fill="#fff" stroke="#f0a0b8" stroke-width="0.7"/>
<rect x="120.81" y="238.1" width="4.4" height="4.4" fill="#fff" stroke="#f0a0b8" stroke-width="0.7"/>
<rect x="125.36" y="238.09" width="4.4" height="4.4" fill="#fff" stroke="#f0a0b8" stroke-width="0.7"/>
<rect x="129.92" y="238.08" width="4.4" height="4.4" fill="#fff" stroke="#f0a0b8" stroke-width="0.7"/>
<rect x="134.48" y="238.08" width="4.4" height="4.4" fill="#fff" stroke="#f0a0b8" stroke-width="0.7"/>
<rect x="139.03" y="238.07" width="4.4" height="4.4" fill="#fff" stroke="#f0a0b8" stroke-width="0.7"/>
<rect x="143.59" y="238.06" width="4.4" height="4.4" fill="#fff" stroke="#f0a0b8" stroke-width="0.7"/>
<rect x="148.14" y="238.05" width="4.4" height="4.4" fill="#fff" stroke="#f0a0b8" stroke-width="0.7"/>
<rect x="152.7" y="238.04" width="4.4" height="4.4" fill="#fff" stroke="#f0a0b8" stroke-width="0.7"/>
<rect x="157.26" y="238.03" width="4.4" height="4.4" fill="#fff" stroke="#f0a0b8" stroke-width="0.7"/>
<rect x="161.81" y="238.02" width="4.4" height="4.4" fill="#fff" stroke="#f0a0b8" stroke-width="0.7"/>
<rect x="166.37" y="238.01" width="4.4" height="4.4" fill="#fff" stroke="#f0a0b8" stroke-width="0.7"/>
<rect x="170.92" y="238" width="4.4" height="4.4" fill="#fff" stroke="#f0a0b8" stroke-width="0.7"/>
<rect x="175.48" y="237.98" width="4.4" height="4.4" fill="#fff" stroke="#f0a0b8" stroke-width="0.7"/>
<rect x="180.04" y="237.97" width="4.4" height="4.4" fill="#fff" stroke="#f0a0b8" stroke-width="0.7"/>
<rect x="184.59" y="237.95" width="4.4" height="4.4" fill="#fff" stroke="#f0a0b8" stroke-width="0.7"/>
<rect x="189.15" y="237.94" width="4.4" height="4.4" fill="#fff" stroke="#f0a0b8" stroke-width="0.7"/>
<rect x="193.7" y="237.92" width="4.4" height="4.4" fill="#fff" stroke="#f0a0b8" stroke-width="0.7"/>
<rect x="198.26" y="237.9" width="4.4" height="4.4" fill="#fff" stroke="#f0a0b8" stroke-width="0.7"/>
<rect x="202.82" y="237.85" width="4.4" height="4.4" fill="#fff" stroke="#f0a0b8" stroke-width="0.7"/>
<rect x="207.37" y="237.77" width="4.4" height="4.4" fill="#fff" stroke="#f0a0b8" stroke-width="0.7"/>
<rect x="211.93" y="237.65" width="4.4" height="4.4" fill="#fff" stroke="#f0a0b8" stroke-width="0.7"/>
<rect x="216.48" y="237.48" width="4.4" height="4.4" fill="#fff" stroke="#f0a0b8" stroke-width="0.7"/>
<rect x="221.04" y="237.27" width="4.4" height="4.4" fill="#fff" stroke="#f0a0b8" stroke-width="0.7"/>
<rect x="225.6" y="237.01" width="4.4" height="4.4" fill="#fff" stroke="#f0a0b8" stroke-width="0.7"/>
<rect x="230.15" y="236.45" width="4.4" height="4.4" fill="#fff" stroke="#f0a0b8" stroke-width="0.7"/>
<rect x="234.91" y="235.47" width="4" height="4" fill="#fff" stroke="#f07890" stroke-width="0.8"/>
<rect x="239.46" y="232.53" width="4" height="4" fill="#fff" stroke="#f07890" stroke-width="0.8"/>
<rect x="244.02" y="228.37" width="4" height="4" fill="#fff" stroke="#f07890" stroke-width="0.8"/>
<rect x="248.58" y="222.83" width="4" height="4" fill="#fff" stroke="#f07890" stroke-width="0.8"/>
<rect x="253.13" y="215.34" width="4" height="4" fill="#fff" stroke="#f07890" stroke-width="0.8"/>
<rect x="257.69" y="206.64" width="4" height="4" fill="#fff" stroke="#f07890" stroke-width="0.8"/>
<rect x="262.24" y="196.46" width="4" height="4" fill="#fff" stroke="#f07890" stroke-width="0.8"/>
<rect x="266.8" y="185.46" width="4" height="4" fill="#fff" stroke="#f07890" stroke-width="0.8"/>
<rect x="271.36" y="174.71" width="4" height="4" fill="#fff" stroke="#f07890" stroke-width="0.8"/>
<rect x="275.91" y="162.85" width="4" height="4" fill="#fff" stroke="#f07890" stroke-width="0.8"/>
<rect x="280.47" y="150.97" width="4" height="4" fill="#fff" stroke="#f07890" stroke-width="0.8"/>
<rect x="285.02" y="139.7" width="4" height="4" fill="#fff" stroke="#f07890" stroke-width="0.8"/>
<rect x="289.58" y="127.05" width="4" height="4" fill="#fff" stroke="#f07890" stroke-width="0.8"/>
<rect x="294.14" y="115.05" width="4" height="4" fill="#fff" stroke="#f07890" stroke-width="0.8"/>
<rect x="298.69" y="101.72" width="4" height="4" fill="#fff" stroke="#f07890" stroke-width="0.8"/>
<rect x="303.25" y="88.86" width="4" height="4" fill="#fff" stroke="#f07890" stroke-width="0.8"/>
<rect x="307.8" y="75.73" width="4" height="4" fill="#fff" stroke="#f07890" stroke-width="0.8"/>
<rect x="312.36" y="63.31" width="4" height="4" fill="#fff" stroke="#f07890" stroke-width="0.8"/>
<rect x="316.92" y="50.64" width="4" height="4" fill="#fff" stroke="#f07890" stroke-width="0.8"/>
<rect x="321.47" y="37.09" width="4" height="4" fill="#fff" stroke="#f07890" stroke-width="0.8"/>
<rect x="326.03" y="23.72" width="4" height="4" fill="#fff" stroke="#f07890" stroke-width="0.8"/>
<line x1="39" y1="238.49" x2="39" y2="242.39" stroke="#a01050" stroke-width="0.9"/>
<line x1="43.56" y1="238.49" x2="43.56" y2="242.39" stroke="#a01050" stroke-width="0.9"/>
<line x1="48.11" y1="238.48" x2="48.11" y2="242.38" stroke="#a01050" stroke-width="0.9"/>
<line x1="52.67" y1="238.47" x2="52.67" y2="242.37" stroke="#a01050" stroke-width="0.9"/>
<line x1="57.22" y1="238.47" x2="57.22" y2="242.37" stroke="#a01050" stroke-width="0.9"/>
<line x1="61.78" y1="238.46" x2="61.78" y2="242.36" stroke="#a01050" stroke-width="0.9"/>
<line x1="66.34" y1="238.46" x2="66.34" y2="242.36" stroke="#a01050" stroke-width="0.9"/>
<line x1="70.89" y1="238.45" x2="70.89" y2="242.35" stroke="#a01050" stroke-width="0.9"/>
<line x1="75.45" y1="238.45" x2="75.45" y2="242.35" stroke="#a01050" stroke-width="0.9"/>
<line x1="80" y1="238.44" x2="80" y2="242.34" stroke="#a01050" stroke-width="0.9"/>
<line x1="84.56" y1="238.44" x2="84.56" y2="242.34" stroke="#a01050" stroke-width="0.9"/>
<line x1="89.12" y1="238.43" x2="89.12" y2="242.33" stroke="#a01050" stroke-width="0.9"/>
<line x1="93.67" y1="238.43" x2="93.67" y2="242.33" stroke="#a01050" stroke-width="0.9"/>
<line x1="98.23" y1="238.42" x2="98.23" y2="242.32" stroke="#a01050" stroke-width="0.9"/>
<line x1="102.78" y1="238.42" x2="102.78" y2="242.32" stroke="#a01050" stroke-width="0.9"/>
<line x1="107.34" y1="238.41" x2="107.34" y2="242.31" stroke="#a01050" stroke-width="0.9"/>
<line x1="111.9" y1="238.41" x2="111.9" y2="242.31" stroke="#a01050" stroke-width="0.9"/>
<line x1="116.45" y1="238.4" x2="116.45" y2="242.3" stroke="#a01050" stroke-width="0.9"/>
<line x1="121.01" y1="238.4" x2="121.01" y2="242.3" stroke="#a01050" stroke-width="0.9"/>
<line x1="125.56" y1="238.39" x2="125.56" y2="242.29" stroke="#a01050" stroke-width="0.9"/>
<line x1="130.12" y1="238.38" x2="130.12" y2="242.28" stroke="#a01050" stroke-width="0.9"/>
<line x1="134.68" y1="238.38" x2="134.68" y2="242.28" stroke="#a01050" stroke-width="0.9"/>
<line x1="139.23" y1="238.37" x2="139.23" y2="242.27" stroke="#a01050" stroke-width="0.9"/>
<line x1="143.79" y1="238.36" x2="143.79" y2="242.26" stroke="#a01050" stroke-width="0.9"/>
<line x1="148.34" y1="238.35" x2="148.34" y2="242.25" stroke="#a01050" stroke-width="0.9"/>
<line x1="152.9" y1="238.34" x2="152.9" y2="242.24" stroke="#a01050" stroke-width="0.9"/>
<line x1="157.46" y1="238.33" x2="157.46" y2="242.23" stroke="#a01050" stroke-width="0.9"/>
<line x1="162.01" y1="238.32" x2="162.01" y2="242.22" stroke="#a01050" stroke-width="0.9"/>
<line x1="166.57" y1="238.31" x2="166.57" y2="242.21" stroke="#a01050" stroke-width="0.9"/>
<line x1="171.12" y1="238.3" x2="171.12" y2="242.2" stroke="#a01050" stroke-width="0.9"/>
<line x1="175.68" y1="238.28" x2="175.68" y2="242.18" stroke="#a01050" stroke-width="0.9"/>
<line x1="180.24" y1="238.27" x2="180.24" y2="242.17" stroke="#a01050" stroke-width="0.9"/>
<line x1="184.79" y1="238.25" x2="184.79" y2="242.15" stroke="#a01050" stroke-width="0.9"/>
<line x1="189.35" y1="238.24" x2="189.35" y2="242.14" stroke="#a01050" stroke-width="0.9"/>
<line x1="193.9" y1="238.22" x2="193.9" y2="242.12" stroke="#a01050" stroke-width="0.9"/>
<line x1="198.46" y1="238.2" x2="198.46" y2="242.1" stroke="#a01050" stroke-width="0.9"/>
<line x1="203.02" y1="238.15" x2="203.02" y2="242.05" stroke="#a01050" stroke-width="0.9"/>
<line x1="207.57" y1="238.07" x2="207.57" y2="241.97" stroke="#a01050" stroke-width="0.9"/>
<line x1="212.13" y1="237.95" x2="212.13" y2="241.85" stroke="#a01050" stroke-width="0.9"/>
<line x1="216.68" y1="237.78" x2="216.68" y2="241.68" stroke="#a01050" stroke-width="0.9"/>
<line x1="221.24" y1="237.57" x2="221.24" y2="241.47" stroke="#a01050" stroke-width="0.9"/>
<line x1="225.8" y1="237.31" x2="225.8" y2="241.21" stroke="#a01050" stroke-width="0.9"/>
<line x1="230.35" y1="236.75" x2="230.35" y2="240.65" stroke="#a01050" stroke-width="0.9"/>
<path d="M38,240.4 L38.5,240.4 L39,240.4 L39.5,240.4 L40,240.4 L40.5,240.4 L41,240.39 L41.5,240.39 L42,240.39 L42.5,240.39 L43,240.39 L43.5,240.39 L44,240.39 L44.5,240.39 L45,240.39 L45.5,240.39 L46,240.39 L46.5,240.39 L47,240.38 L47.5,240.38 L48,240.38 L48.5,240.38 L49,240.38 L49.5,240.38 L50,240.38 L50.5,240.38 L51,240.38 L51.5,240.38 L52,240.38 L52.5,240.38 L53,240.38 L53.5,240.37 L54,240.37 L54.5,240.37 L55,240.37 L55.5,240.37 L56,240.37 L56.5,240.37 L57,240.37 L57.5,240.37 L58,240.37 L58.5,240.37 L59,240.37 L59.5,240.37 L60,240.37 L60.5,240.37 L61,240.36 L61.5,240.36 L62,240.36 L62.5,240.36 L63,240.36 L63.5,240.36 L64,240.36 L64.5,240.36 L65,240.36 L65.5,240.36 L66,240.36 L66.5,240.36 L67,240.36 L67.5,240.36 L68,240.36 L68.5,240.36 L69,240.35 L69.5,240.35 L70,240.35 L70.5,240.35 L71,240.35 L71.5,240.35 L72,240.35 L72.5,240.35 L73,240.35 L73.5,240.35 L74,240.35 L74.5,240.35 L75,240.35 L75.5,240.35 L76,240.35 L76.5,240.35 L77,240.35 L77.5,240.35 L78,240.35 L78.5,240.34 L79,240.34 L79.5,240.34 L80,240.34 L80.5,240.34 L81,240.34 L81.5,240.34 L82,240.34 L82.5,240.34 L83,240.34 L83.5,240.34 L84,240.34 L84.5,240.34 L85,240.34 L85.5,240.34 L86,240.34 L86.5,240.34 L87,240.34 L87.5,240.34 L88,240.33 L88.5,240.33 L89,240.33 L89.5,240.33 L90,240.33 L90.5,240.33 L91,240.33 L91.5,240.33 L92,240.33 L92.5,240.33 L93,240.33 L93.5,240.33 L94,240.33 L94.5,240.33 L95,240.33 L95.5,240.33 L96,240.33 L96.5,240.33 L97,240.33 L97.5,240.33 L98,240.32 L98.5,240.32 L99,240.32 L99.5,240.32 L100,240.32 L100.5,240.32 L101,240.32 L101.5,240.32 L102,240.32 L102.5,240.32 L103,240.32 L103.5,240.32 L104,240.32 L104.5,240.32 L105,240.32 L105.5,240.32 L106,240.32 L106.5,240.32 L107,240.32 L107.5,240.32 L108,240.31 L108.5,240.31 L109,240.31 L109.5,240.31 L110,240.31 L110.5,240.31 L111,240.31 L111.5,240.31 L112,240.31 L112.5,240.31 L113,240.31 L113.5,240.31 L114,240.31 L114.5,240.31 L115,240.31 L115.5,240.31 L116,240.31 L116.5,240.31 L117,240.3 L117.5,240.3 L118,240.3 L118.5,240.3 L119,240.3 L119.5,240.3 L120,240.3 L120.5,240.3 L121,240.3 L121.5,240.3 L122,240.3 L122.5,240.3 L123,240.3 L123.5,240.3 L124,240.3 L124.5,240.3 L125,240.29 L125.5,240.29 L126,240.29 L126.5,240.29 L127,240.29 L127.5,240.29 L128,240.29 L128.5,240.29 L129,240.29 L129.5,240.29 L130,240.29 L130.5,240.29 L131,240.29 L131.5,240.29 L132,240.28 L132.5,240.28 L133,240.28 L133.5,240.28 L134,240.28 L134.5,240.28 L135,240.28 L135.5,240.28 L136,240.28 L136.5,240.28 L137,240.28 L137.5,240.28 L138,240.28 L138.5,240.27 L139,240.27 L139.5,240.27 L140,240.27 L140.5,240.27 L141,240.27 L141.5,240.27 L142,240.27 L142.5,240.27 L143,240.27 L143.5,240.27 L144,240.27 L144.5,240.26 L145,240.26 L145.5,240.26 L146,240.26 L146.5,240.26 L147,240.26 L147.5,240.26 L148,240.26 L148.5,240.26 L149,240.26 L149.5,240.26 L150,240.25 L150.5,240.25 L151,240.25 L151.5,240.25 L152,240.25 L152.5,240.25 L153,240.25 L153.5,240.25 L154,240.25 L154.5,240.24 L155,240.24 L155.5,240.24 L156,240.24 L156.5,240.24 L157,240.24 L157.5,240.24 L158,240.24 L158.5,240.24 L159,240.23 L159.5,240.23 L160,240.23 L160.5,240.23 L161,240.23 L161.5,240.23 L162,240.23 L162.5,240.23 L163,240.23 L163.5,240.22 L164,240.22 L164.5,240.22 L165,240.22 L165.5,240.22 L166,240.22 L166.5,240.22 L167,240.22 L167.5,240.21 L168,240.21 L168.5,240.21 L169,240.21 L169.5,240.21 L170,240.21 L170.5,240.21 L171,240.2 L171.5,240.2 L172,240.2 L172.5,240.2 L173,240.2 L173.5,240.2 L174,240.2 L174.5,240.19 L175,240.19 L175.5,240.19 L176,240.19 L176.5,240.19 L177,240.19 L177.5,240.18 L178,240.18 L178.5,240.18 L179,240.18 L179.5,240.18 L180,240.18 L180.5,240.18 L181,240.17 L181.5,240.17 L182,240.17 L182.5,240.17 L183,240.17 L183.5,240.16 L184,240.16 L184.5,240.16 L185,240.16 L185.5,240.16 L186,240.16 L186.5,240.15 L187,240.15 L187.5,240.15 L188,240.15 L188.5,240.15 L189,240.15 L189.5,240.14 L190,240.14 L190.5,240.14 L191,240.14 L191.5,240.14 L192,240.13 L192.5,240.13 L193,240.13 L193.5,240.13 L194,240.13 L194.5,240.12 L195,240.12 L195.5,240.12 L196,240.12 L196.5,240.12 L197,240.11 L197.5,240.11 L198,240.11 L198.5,240.11 L199,240.1 L199.5,240.1 L200,240.1 L200.5,240.1 L201,240.09 L201.5,240.09 L202,240.09 L202.5,240.08 L203,240.08 L203.5,240.07 L204,240.07 L204.5,240.06 L205,240.05 L205.5,240.05 L206,240.04 L206.5,240.03 L207,240.02 L207.5,240.01 L208,240.01 L208.5,240 L209,239.98 L209.5,239.97 L210,239.96 L210.5,239.95 L211,239.94 L211.5,239.92 L212,239.91 L212.5,239.9 L213,239.88 L213.5,239.87 L214,239.85 L214.5,239.84 L215,239.82 L215.5,239.8 L216,239.79 L216.5,239.77 L217,239.75 L217.5,239.73 L218,239.71 L218.5,239.69 L219,239.67 L219.5,239.65 L220,239.63 L220.5,239.6 L221,239.58 L221.5,239.56 L222,239.53 L222.5,239.51 L223,239.48 L223.5,239.46 L224,239.43 L224.5,239.4 L225,239.38 L225.5,239.35 L226,239.32 L226.5,239.29 L227,239.26 L227.5,239.23 L228,239.2 L228.5,239.17 L229,239.12 L229.5,239.07 L230,239.02 L230.5,238.95 L231,238.88 L231.5,238.8 L232,238.72 L232.5,238.63 L233,238.53 L233.5,238.42 L234,238.31 L234.5,238.19 L235,238.07 L235.5,237.94 L236,237.8 L236.5,237.64 L237,237.43 L237.5,237.19 L238,236.91 L238.5,236.61 L239,236.28 L239.5,235.94 L240,235.59 L240.5,235.23 L241,234.87 L241.5,234.51 L242,234.12 L242.5,233.71 L243,233.29 L243.5,232.84 L244,232.38 L244.5,231.9 L245,231.41 L245.5,230.91 L246,230.39 L246.5,229.86 L247,229.31 L247.5,228.75 L248,228.16 L248.5,227.56 L249,226.93 L249.5,226.29 L250,225.62 L250.5,224.94 L251,224.23 L251.5,223.48 L252,222.7 L252.5,221.89 L253,221.06 L253.5,220.2 L254,219.34 L254.5,218.46 L255,217.58 L255.5,216.69 L256,215.78 L256.5,214.86 L257,213.93 L257.5,212.98 L258,212.01 L258.5,211.03 L259,210.04 L259.5,209.02 L260,207.99 L260.5,206.94 L261,205.86 L261.5,204.76 L262,203.64 L262.5,202.5 L263,201.35 L263.5,200.19 L264,199.03 L264.5,197.87 L265,196.69 L265.5,195.49 L266,194.28 L266.5,193.06 L267,191.83 L267.5,190.61 L268,189.39 L268.5,188.18 L269,186.99 L269.5,185.81 L270,184.64 L270.5,183.48 L271,182.32 L271.5,181.15 L272,179.98 L272.5,178.79 L273,177.58 L273.5,176.35 L274,175.09 L274.5,173.81 L275,172.51 L275.5,171.2 L276,169.88 L276.5,168.56 L277,167.24 L277.5,165.92 L278,164.62 L278.5,163.31 L279,161.99 L279.5,160.68 L280,159.36 L280.5,158.05 L281,156.75 L281.5,155.45 L282,154.17 L282.5,152.89 L283,151.64 L283.5,150.41 L284,149.2 L284.5,147.98 L285,146.77 L285.5,145.55 L286,144.31 L286.5,143.05 L287,141.76 L287.5,140.44 L288,139.08 L288.5,137.69 L289,136.29 L289.5,134.87 L290,133.45 L290.5,132.04 L291,130.65 L291.5,129.27 L292,127.93 L292.5,126.6 L293,125.3 L293.5,124.01 L294,122.71 L294.5,121.42 L295,120.11 L295.5,118.78 L296,117.43 L296.5,116.04 L297,114.62 L297.5,113.17 L298,111.69 L298.5,110.2 L299,108.71 L299.5,107.22 L300,105.74 L300.5,104.28 L301,102.84 L301.5,101.42 L302,100 L302.5,98.6 L303,97.2 L303.5,95.8 L304,94.39 L304.5,92.99 L305,91.57 L305.5,90.14 L306,88.7 L306.5,87.25 L307,85.79 L307.5,84.33 L308,82.88 L308.5,81.43 L309,80 L309.5,78.58 L310,77.18 L310.5,75.8 L311,74.43 L311.5,73.07 L312,71.72 L312.5,70.37 L313,69.02 L313.5,67.66 L314,66.3 L314.5,64.92 L315,63.55 L315.5,62.18 L316,60.8 L316.5,59.42 L317,58.04 L317.5,56.65 L318,55.25 L318.5,53.83 L319,52.4 L319.5,50.95 L320,49.48 L320.5,47.99 L321,46.49 L321.5,44.99 L322,43.48 L322.5,41.98 L323,40.49 L323.5,39 L324,37.52 L324.5,36.04 L325,34.55 L325.5,33.06 L326,31.59 L326.5,30.12 L327,28.66 L327.5,27.22 L328,25.8 L328.5,24.4 L329,23.03 L329.5,21.67 L330,20.32 L330.5,18.97 L331,17.62 L331.3,16.8" fill="none" stroke="#e020e0" stroke-width="1.35" stroke-linejoin="round" stroke-linecap="round"/>
<rect x="38.6" y="239.3" width="196" height="2.2" fill="#d060e0" opacity="0.55"/>
<rect x="38" y="5.5" width="309.5" height="249.3" fill="none" stroke="#444" stroke-width="1.5"/>
<line x1="38" y1="254.8" x2="38" y2="251.3" stroke="#222" stroke-width="1"/>
<line x1="38" y1="5.5" x2="38" y2="9" stroke="#222" stroke-width="1"/>
<line x1="68.95" y1="254.8" x2="68.95" y2="252.8" stroke="#222" stroke-width="1"/>
<line x1="68.95" y1="5.5" x2="68.95" y2="7.5" stroke="#222" stroke-width="1"/>
<line x1="99.9" y1="254.8" x2="99.9" y2="251.3" stroke="#222" stroke-width="1"/>
<line x1="99.9" y1="5.5" x2="99.9" y2="9" stroke="#222" stroke-width="1"/>
<line x1="130.85" y1="254.8" x2="130.85" y2="252.8" stroke="#222" stroke-width="1"/>
<line x1="130.85" y1="5.5" x2="130.85" y2="7.5" stroke="#222" stroke-width="1"/>
<line x1="161.8" y1="254.8" x2="161.8" y2="251.3" stroke="#222" stroke-width="1"/>
<line x1="161.8" y1="5.5" x2="161.8" y2="9" stroke="#222" stroke-width="1"/>
<line x1="192.75" y1="254.8" x2="192.75" y2="252.8" stroke="#222" stroke-width="1"/>
<line x1="192.75" y1="5.5" x2="192.75" y2="7.5" stroke="#222" stroke-width="1"/>
<line x1="223.7" y1="254.8" x2="223.7" y2="251.3" stroke="#222" stroke-width="1"/>
<line x1="223.7" y1="5.5" x2="223.7" y2="9" stroke="#222" stroke-width="1"/>
<line x1="254.65" y1="254.8" x2="254.65" y2="252.8" stroke="#222" stroke-width="1"/>
<line x1="254.65" y1="5.5" x2="254.65" y2="7.5" stroke="#222" stroke-width="1"/>
<line x1="285.6" y1="254.8" x2="285.6" y2="251.3" stroke="#222" stroke-width="1"/>
<line x1="285.6" y1="5.5" x2="285.6" y2="9" stroke="#222" stroke-width="1"/>
<line x1="316.55" y1="254.8" x2="316.55" y2="252.8" stroke="#222" stroke-width="1"/>
<line x1="316.55" y1="5.5" x2="316.55" y2="7.5" stroke="#222" stroke-width="1"/>
<line x1="347.5" y1="254.8" x2="347.5" y2="251.3" stroke="#222" stroke-width="1"/>
<line x1="347.5" y1="5.5" x2="347.5" y2="9" stroke="#222" stroke-width="1"/>
<line x1="38" y1="240.7" x2="41.5" y2="240.7" stroke="#222" stroke-width="1"/>
<line x1="38" y1="217.18" x2="40" y2="217.18" stroke="#222" stroke-width="1"/>
<line x1="38" y1="193.66" x2="41.5" y2="193.66" stroke="#222" stroke-width="1"/>
<line x1="38" y1="170.14" x2="40" y2="170.14" stroke="#222" stroke-width="1"/>
<line x1="38" y1="146.62" x2="41.5" y2="146.62" stroke="#222" stroke-width="1"/>
<line x1="38" y1="123.1" x2="40" y2="123.1" stroke="#222" stroke-width="1"/>
<line x1="38" y1="99.58" x2="41.5" y2="99.58" stroke="#222" stroke-width="1"/>
<line x1="38" y1="76.06" x2="40" y2="76.06" stroke="#222" stroke-width="1"/>
<line x1="38" y1="52.54" x2="41.5" y2="52.54" stroke="#222" stroke-width="1"/>
<line x1="38" y1="29.02" x2="40" y2="29.02" stroke="#222" stroke-width="1"/>
<line x1="38" y1="5.5" x2="41.5" y2="5.5" stroke="#222" stroke-width="1"/>
<text x="38" y="265.8" font-size="10" text-anchor="middle" fill="#111">0.8</text>
<text x="99.9" y="265.8" font-size="10" text-anchor="middle" fill="#111">1.0</text>
<text x="161.8" y="265.8" font-size="10" text-anchor="middle" fill="#111">1.2</text>
<text x="223.7" y="265.8" font-size="10" text-anchor="middle" fill="#111">1.4</text>
<text x="285.6" y="265.8" font-size="10" text-anchor="middle" fill="#111">1.6</text>
<text x="347.5" y="265.8" font-size="10" text-anchor="middle" fill="#111">1.8</text>
<text x="34.5" y="244.3" font-size="10" text-anchor="end" fill="#111">0</text>
<text x="34.5" y="197.26" font-size="10" text-anchor="end" fill="#111">10</text>
<text x="34.5" y="150.22" font-size="10" text-anchor="end" fill="#111">20</text>
<text x="34.5" y="103.18" font-size="10" text-anchor="end" fill="#111">30</text>
<text x="34.5" y="56.14" font-size="10" text-anchor="end" fill="#111">40</text>
<text x="34.5" y="9.1" font-size="10" text-anchor="end" fill="#111">50</text>
<text x="186.5" y="281" font-size="11.6" font-weight="bold" text-anchor="middle" fill="#111">Potential (V) vs. RHE</text>
<text x="21.3" y="130.3" font-size="12" font-weight="bold" text-anchor="middle" fill="#111" transform="rotate(-90 21.3 130.3)">Current density (mAcm<tspan font-size="7.6" dy="-4.6">-2</tspan><tspan dy="4.6">)</tspan></text>
<text x="10.6" y="12.7" font-size="16.5" font-weight="bold" text-anchor="start" fill="#111">a</text>
<line x1="49.2" y1="23.6" x2="70.6" y2="23.6" stroke="#111" stroke-width="1.6"/>
<circle cx="59.8" cy="23.6" r="2.1" fill="#000" stroke="none" stroke-width="1"/>
<text x="73.8" y="27.4" font-size="9.45" text-anchor="start" fill="#111">FTO/FeOOH</text>
<line x1="49.2" y1="35.7" x2="70.6" y2="35.7" stroke="#f0902a" stroke-width="1.3"/>
<circle cx="59.8" cy="35.7" r="2" fill="#fff" stroke="#f0a050" stroke-width="0.8"/>
<text x="73.8" y="39.5" font-size="9.45" text-anchor="start" fill="#111">FTO/Co/FeOOH</text>
<line x1="49.2" y1="46.9" x2="70.6" y2="46.9" stroke="#ff1010" stroke-width="2.2"/>
<rect x="58" y="45" width="3.8" height="3.8" fill="#ff0000" stroke="none" stroke-width="1"/>
<text x="73.8" y="50.7" font-size="9.45" text-anchor="start" fill="#111">FTO/FeO<tspan font-size="6.5" dy="2.5">x</tspan></text>
<line x1="49.2" y1="61.3" x2="70.6" y2="61.3" stroke="#e81ee8" stroke-width="1.3"/>
<rect x="58.1" y="59.6" width="3.4" height="3.4" fill="#fff" stroke="#f07090" stroke-width="0.8"/>
<text x="73.8" y="65.1" font-size="9.45" text-anchor="start" fill="#111">FTO/Co/FeO<tspan font-size="6.5" dy="2.5">x</tspan></text>
<rect x="158" y="67" width="93.7" height="104" fill="none" stroke="#555" stroke-width="0.75"/>
<line x1="158" y1="171" x2="158" y2="169.4" stroke="#555" stroke-width="0.6"/>
<line x1="169.71" y1="171" x2="169.71" y2="170" stroke="#555" stroke-width="0.6"/>
<line x1="181.43" y1="171" x2="181.43" y2="169.4" stroke="#555" stroke-width="0.6"/>
<line x1="193.14" y1="171" x2="193.14" y2="170" stroke="#555" stroke-width="0.6"/>
<line x1="204.85" y1="171" x2="204.85" y2="169.4" stroke="#555" stroke-width="0.6"/>
<line x1="216.56" y1="171" x2="216.56" y2="170" stroke="#555" stroke-width="0.6"/>
<line x1="228.27" y1="171" x2="228.27" y2="169.4" stroke="#555" stroke-width="0.6"/>
<line x1="239.99" y1="171" x2="239.99" y2="170" stroke="#555" stroke-width="0.6"/>
<line x1="251.7" y1="171" x2="251.7" y2="169.4" stroke="#555" stroke-width="0.6"/>
<line x1="158" y1="171" x2="159.6" y2="171" stroke="#555" stroke-width="0.6"/>
<line x1="158" y1="153.67" x2="159.6" y2="153.67" stroke="#555" stroke-width="0.6"/>
<line x1="158" y1="136.33" x2="159.6" y2="136.33" stroke="#555" stroke-width="0.6"/>
<line x1="158" y1="119" x2="159.6" y2="119" stroke="#555" stroke-width="0.6"/>
<line x1="158" y1="101.67" x2="159.6" y2="101.67" stroke="#555" stroke-width="0.6"/>
<line x1="158" y1="84.33" x2="159.6" y2="84.33" stroke="#555" stroke-width="0.6"/>
<line x1="158" y1="67" x2="159.6" y2="67" stroke="#555" stroke-width="0.6"/>
<text x="158" y="175.8" font-size="4.2" font-weight="bold" text-anchor="middle" fill="#111">0</text>
<text x="181.43" y="175.8" font-size="4.2" font-weight="bold" text-anchor="middle" fill="#111">2</text>
<text x="204.85" y="175.8" font-size="4.2" font-weight="bold" text-anchor="middle" fill="#111">4</text>
<text x="228.27" y="175.8" font-size="4.2" font-weight="bold" text-anchor="middle" fill="#111">6</text>
<text x="251.7" y="175.8" font-size="4.2" font-weight="bold" text-anchor="middle" fill="#111">8</text>
<text x="156.3" y="172.4" font-size="4.2" font-weight="bold" text-anchor="end" fill="#111">20</text>
<text x="156.3" y="155.07" font-size="4.2" font-weight="bold" text-anchor="end" fill="#111">25</text>
<text x="156.3" y="137.73" font-size="4.2" font-weight="bold" text-anchor="end" fill="#111">30</text>
<text x="156.3" y="120.4" font-size="4.2" font-weight="bold" text-anchor="end" fill="#111">35</text>
<text x="156.3" y="103.07" font-size="4.2" font-weight="bold" text-anchor="end" fill="#111">40</text>
<text x="156.3" y="85.73" font-size="4.2" font-weight="bold" text-anchor="end" fill="#111">45</text>
<text x="156.3" y="68.4" font-size="4.2" font-weight="bold" text-anchor="end" fill="#111">50</text>
<polyline points="158,140.15 181.43,125.93 216.56,72.89 239.99,142.57" fill="none" stroke="#e02828" stroke-width="1.0" stroke-linejoin="round"/>
<circle cx="158" cy="140.15" r="1.1" fill="#e02020" stroke="none" stroke-width="1"/>
<circle cx="181.43" cy="125.93" r="1.1" fill="#e02020" stroke="none" stroke-width="1"/>
<circle cx="216.56" cy="72.89" r="1.1" fill="#e02020" stroke="none" stroke-width="1"/>
<circle cx="239.99" cy="142.57" r="1.1" fill="#e02020" stroke="none" stroke-width="1"/>
<text x="201.5" y="181.6" font-size="5.3" font-weight="bold" text-anchor="middle" fill="#111">Co  (mC/cm<tspan font-size="3.6" dy="-2">2</tspan><tspan dy="2">)</tspan></text>
<text x="149.7" y="122.9" font-size="5.1" font-weight="bold" text-anchor="middle" fill="#111" transform="rotate(-90 149.7 122.9)">Current density(@1.75 V<tspan font-size="3.8" dy="1.2">RHE</tspan><tspan dy="-1.2">)</tspan></text>
<path d="M410,231.8 L410.5,231.8 L411,231.8 L411.5,231.8 L412,231.8 L412.5,231.8 L413,231.8 L413.5,231.8 L414,231.8 L414.5,231.8 L415,231.8 L415.5,231.8 L416,231.8 L416.5,231.8 L417,231.8 L417.5,231.8 L418,231.8 L418.5,231.8 L419,231.8 L419.5,231.8 L420,231.8 L420.5,231.8 L421,231.8 L421.5,231.8 L422,231.8 L422.5,231.8 L423,231.8 L423.5,231.8 L424,231.8 L424.5,231.8 L425,231.8 L425.5,231.8 L426,231.8 L426.5,231.8 L427,231.8 L427.5,231.8 L428,231.8 L428.5,231.8 L429,231.8 L429.5,231.8 L430,231.8 L430.5,231.8 L431,231.8 L431.5,231.8 L432,231.8 L432.5,231.8 L433,231.8 L433.5,231.8 L434,231.8 L434.5,231.8 L435,231.8 L435.5,231.8 L436,231.8 L436.5,231.8 L437,231.8 L437.5,231.8 L438,231.8 L438.5,231.8 L439,231.8 L439.5,231.8 L440,231.8 L440.5,231.8 L441,231.8 L441.5,231.8 L442,231.8 L442.5,231.8 L443,231.8 L443.5,231.8 L444,231.8 L444.5,231.8 L445,231.8 L445.5,231.8 L446,231.8 L446.5,231.8 L447,231.8 L447.5,231.8 L448,231.8 L448.5,231.8 L449,231.8 L449.5,231.8 L450,231.8 L450.5,231.8 L451,231.8 L451.5,231.8 L452,231.8 L452.5,231.8 L453,231.8 L453.5,231.8 L454,231.8 L454.5,231.8 L455,231.8 L455.5,231.8 L456,231.8 L456.5,231.8 L457,231.8 L457.5,231.8 L458,231.8 L458.5,231.8 L459,231.8 L459.5,231.8 L460,231.8 L460.5,231.8 L461,231.8 L461.5,231.8 L462,231.8 L462.5,231.8 L463,231.8 L463.5,231.8 L464,231.8 L464.5,231.8 L465,231.8 L465.5,231.8 L466,231.8 L466.5,231.8 L467,231.8 L467.5,231.8 L468,231.8 L468.5,231.8 L469,231.8 L469.5,231.8 L470,231.8 L470.5,231.8 L471,231.8 L471.5,231.8 L472,231.8 L472.5,231.8 L473,231.8 L473.5,231.8 L474,231.8 L474.5,231.8 L475,231.8 L475.5,231.8 L476,231.8 L476.5,231.8 L477,231.8 L477.5,231.8 L478,231.8 L478.5,231.8 L479,231.8 L479.5,231.8 L480,231.8 L480.5,231.8 L481,231.8 L481.5,231.8 L482,231.8 L482.5,231.8 L483,231.8 L483.5,231.8 L484,231.8 L484.5,231.8 L485,231.8 L485.5,231.8 L486,231.8 L486.5,231.8 L487,231.8 L487.5,231.8 L488,231.8 L488.5,231.8 L489,231.8 L489.5,231.8 L490,231.8 L490.5,231.8 L491,231.8 L491.5,231.8 L492,231.8 L492.5,231.8 L493,231.8 L493.5,231.8 L494,231.8 L494.5,231.8 L495,231.8 L495.5,231.8 L496,231.8 L496.5,231.8 L497,231.8 L497.5,231.8 L498,231.8 L498.5,231.8 L499,231.8 L499.5,231.8 L500,231.8 L500.5,231.8 L501,231.79 L501.5,231.78 L502,231.77 L502.5,231.76 L503,231.74 L503.5,231.72 L504,231.71 L504.5,231.69 L505,231.67 L505.5,231.65 L506,231.64 L506.5,231.62 L507,231.61 L507.5,231.59 L508,231.58 L508.5,231.57 L509,231.55 L509.5,231.54 L510,231.53 L510.5,231.51 L511,231.5 L511.5,231.49 L512,231.47 L512.5,231.46 L513,231.45 L513.5,231.43 L514,231.42 L514.5,231.41 L515,231.39 L515.5,231.38 L516,231.37 L516.5,231.35 L517,231.34 L517.5,231.33 L518,231.31 L518.5,231.3 L519,231.29 L519.5,231.27 L520,231.26 L520.5,231.25 L521,231.23 L521.5,231.22 L522,231.21 L522.5,231.19 L523,231.18 L523.5,231.17 L524,231.16 L524.5,231.15 L525,231.14 L525.5,231.13 L526,231.12 L526.5,231.11 L527,231.1 L527.5,231.09 L528,231.07 L528.5,231.05 L529,231.04 L529.5,231.01 L530,230.99 L530.5,230.94 L531,230.87 L531.5,230.78 L532,230.67 L532.5,230.55 L533,230.41 L533.5,230.26 L534,230.11 L534.5,229.94 L535,229.77 L535.5,229.6 L536,229.43 L536.5,229.26 L537,229.1 L537.5,228.94 L538,228.79 L538.5,228.63 L539,228.47 L539.5,228.31 L540,228.14 L540.5,227.97 L541,227.8 L541.5,227.61 L542,227.43 L542.5,227.23 L543,227.03 L543.5,226.82 L544,226.59 L544.5,226.36 L545,226.12 L545.5,225.86 L546,225.58 L546.5,225.28 L547,224.96 L547.5,224.63 L548,224.28 L548.5,223.92 L549,223.55 L549.5,223.17 L550,222.79 L550.5,222.39 L551,222 L551.5,221.59 L552,221.19 L552.5,220.79 L553,220.37 L553.5,219.95 L554,219.52 L554.5,219.08 L555,218.63 L555.5,218.17 L556,217.7 L556.5,217.23 L557,216.74 L557.5,216.25 L558,215.75 L558.5,215.24 L559,214.72 L559.5,214.2 L560,213.67 L560.5,213.13 L561,212.57 L561.5,212 L562,211.42 L562.5,210.83 L563,210.22 L563.5,209.61 L564,208.99 L564.5,208.37 L565,207.74 L565.5,207.11 L566,206.47 L566.5,205.84 L567,205.21 L567.5,204.57 L568,203.94 L568.5,203.31 L569,202.67 L569.5,202.03 L570,201.38 L570.5,200.73 L571,200.08 L571.5,199.43 L572,198.76 L572.5,198.1 L573,197.43 L573.5,196.75 L574,196.07 L574.5,195.38 L575,194.69 L575.5,193.99 L576,193.28 L576.5,192.57 L577,191.85 L577.5,191.12 L578,190.39 L578.5,189.65 L579,188.91 L579.5,188.16 L580,187.41 L580.5,186.66 L581,185.9 L581.5,185.14 L582,184.37 L582.5,183.61 L583,182.84 L583.5,182.06 L584,181.27 L584.5,180.49 L585,179.69 L585.5,178.89 L586,178.09 L586.5,177.29 L587,176.48 L587.5,175.67 L588,174.87 L588.5,174.06 L589,173.25 L589.5,172.44 L590,171.64 L590.5,170.83 L591,170.02 L591.5,169.22 L592,168.41 L592.5,167.6 L593,166.79 L593.5,165.98 L594,165.17 L594.5,164.36 L595,163.55 L595.5,162.73 L596,161.92 L596.5,161.1 L597,160.28 L597.5,159.47 L598,158.65 L598.5,157.83 L599,157.01 L599.5,156.2 L600,155.38 L600.5,154.56 L601,153.74 L601.5,152.92 L602,152.09 L602.5,151.27 L603,150.44 L603.5,149.61 L604,148.77 L604.5,147.94 L605,147.1 L605.5,146.26 L606,145.41 L606.5,144.56 L607,143.71 L607.5,142.85 L608,141.99 L608.5,141.13 L609,140.27 L609.5,139.41 L610,138.54 L610.5,137.68 L611,136.82 L611.5,135.95 L612,135.09 L612.5,134.23 L613,133.38 L613.5,132.52 L614,131.67 L614.5,130.82 L615,129.97 L615.5,129.12 L616,128.26 L616.5,127.41 L617,126.56 L617.5,125.7 L618,124.84 L618.5,123.98 L619,123.11 L619.5,122.24 L620,121.37 L620.5,120.49 L621,119.61 L621.5,118.72 L622,117.83 L622.5,116.93 L623,116.03 L623.5,115.13 L624,114.23 L624.5,113.32 L625,112.42 L625.5,111.51 L626,110.61 L626.5,109.71 L627,108.81 L627.5,107.91 L628,107.01 L628.5,106.11 L629,105.21 L629.5,104.31 L630,103.41 L630.5,102.51 L631,101.61 L631.5,100.71 L632,99.81 L632.5,98.92 L633,98.02 L633.5,97.12 L634,96.23 L634.5,95.33 L635,94.44 L635.5,93.55 L636,92.67 L636.5,91.79 L637,90.91 L637.5,90.03 L638,89.15 L638.5,88.28 L639,87.4 L639.5,86.52 L640,85.64 L640.5,84.76 L641,83.87 L641.5,82.98 L642,82.08 L642.5,81.18 L643,80.27 L643.5,79.36 L644,78.44 L644.5,77.51 L645,76.58 L645.5,75.64 L646,74.71 L646.5,73.77 L647,72.83 L647.5,71.89 L648,70.95 L648.5,70.02 L649,69.08 L649.5,68.15 L650,67.22 L650.5,66.3 L651,65.38 L651.5,64.46 L652,63.55 L652.5,62.64 L653,61.73 L653.5,60.82 L654,59.91 L654.5,58.99 L655,58.08 L655.5,57.16 L656,56.25 L656.5,55.32 L657,54.39 L657.5,53.46 L658,52.52 L658.5,51.58 L659,50.63 L659.5,49.67 L660,48.72 L660.5,47.75 L661,46.79 L661.5,45.83 L662,44.86 L662.5,43.9 L663,42.93 L663.5,41.97 L664,41.01 L664.5,40.05 L665,39.1 L665.5,38.16 L666,37.21 L666.5,36.27 L667,35.34 L667.5,34.4 L668,33.47 L668.5,32.53 L669,31.6 L669.5,30.67 L670,29.73 L670.5,28.8 L671,27.86 L671.5,26.93 L672,25.98 L672.5,25.04 L673,24.09 L673.5,23.13 L674,22.16 L674.5,21.18 L675,20.19 L675.5,19.2 L676,18.22 L676.5,17.23 L677,16.25 L677.5,15.28 L678,14.32 L678.5,13.38 L679,12.45 L679.5,11.54 L680,10.65 L680.5,9.79 L681,8.95 L681.5,8.14 L682,7.34 L682.5,6.55 L683,5.76 L683.5,4.96 L683.6,4.8" fill="none" stroke="#e020e0" stroke-width="1.3" stroke-linejoin="round" stroke-linecap="round"/>
<rect x="414.9" y="229.7" width="4.2" height="4.2" fill="#f01050" stroke="none" stroke-width="1"/>
<rect x="422.42" y="229.7" width="4.2" height="4.2" fill="#f01050" stroke="none" stroke-width="1"/>
<rect x="429.94" y="229.7" width="4.2" height="4.2" fill="#f01050" stroke="none" stroke-width="1"/>
<rect x="437.46" y="229.7" width="4.2" height="4.2" fill="#f01050" stroke="none" stroke-width="1"/>
<rect x="444.98" y="229.7" width="4.2" height="4.2" fill="#f01050" stroke="none" stroke-width="1"/>
<rect x="452.5" y="229.7" width="4.2" height="4.2" fill="#f01050" stroke="none" stroke-width="1"/>
<rect x="460.02" y="229.7" width="4.2" height="4.2" fill="#f01050" stroke="none" stroke-width="1"/>
<rect x="467.54" y="229.7" width="4.2" height="4.2" fill="#f01050" stroke="none" stroke-width="1"/>
<rect x="475.06" y="229.7" width="4.2" height="4.2" fill="#f01050" stroke="none" stroke-width="1"/>
<rect x="482.58" y="229.7" width="4.2" height="4.2" fill="#f01050" stroke="none" stroke-width="1"/>
<rect x="490.1" y="229.7" width="4.2" height="4.2" fill="#f01050" stroke="none" stroke-width="1"/>
<rect x="497.62" y="229.7" width="4.2" height="4.2" fill="#f01050" stroke="none" stroke-width="1"/>
<rect x="505.14" y="229.5" width="4.2" height="4.2" fill="#f01050" stroke="none" stroke-width="1"/>
<rect x="512.66" y="229.3" width="4.2" height="4.2" fill="#f01050" stroke="none" stroke-width="1"/>
<rect x="520.18" y="229.1" width="4.2" height="4.2" fill="#f01050" stroke="none" stroke-width="1"/>
<rect x="527.7" y="228.9" width="4.2" height="4.2" fill="#f01050" stroke="none" stroke-width="1"/>
<rect x="535.22" y="226.9" width="4.2" height="4.2" fill="#f01050" stroke="none" stroke-width="1"/>
<rect x="542.74" y="224.1" width="4.2" height="4.2" fill="#f01050" stroke="none" stroke-width="1"/>
<rect x="550.26" y="218.8" width="4.2" height="4.2" fill="#f01050" stroke="none" stroke-width="1"/>
<rect x="557.78" y="211.7" width="4.2" height="4.2" fill="#f01050" stroke="none" stroke-width="1"/>
<rect x="565.3" y="202.6" width="4.2" height="4.2" fill="#f01050" stroke="none" stroke-width="1"/>
<rect x="572.82" y="192.7" width="4.2" height="4.2" fill="#f01050" stroke="none" stroke-width="1"/>
<rect x="580.34" y="181.6" width="4.2" height="4.2" fill="#f01050" stroke="none" stroke-width="1"/>
<rect x="587.86" y="169.6" width="4.2" height="4.2" fill="#f01050" stroke="none" stroke-width="1"/>
<rect x="595.38" y="157.4" width="4.2" height="4.2" fill="#f01050" stroke="none" stroke-width="1"/>
<rect x="602.9" y="145" width="4.2" height="4.2" fill="#f01050" stroke="none" stroke-width="1"/>
<rect x="610.42" y="132.1" width="4.2" height="4.2" fill="#f01050" stroke="none" stroke-width="1"/>
<rect x="617.94" y="119.2" width="4.2" height="4.2" fill="#f01050" stroke="none" stroke-width="1"/>
<rect x="625.46" y="105.7" width="4.2" height="4.2" fill="#f01050" stroke="none" stroke-width="1"/>
<rect x="632.98" y="92.2" width="4.2" height="4.2" fill="#f01050" stroke="none" stroke-width="1"/>
<rect x="640.5" y="78.9" width="4.2" height="4.2" fill="#f01050" stroke="none" stroke-width="1"/>
<rect x="648.02" y="64.9" width="4.2" height="4.2" fill="#f01050" stroke="none" stroke-width="1"/>
<rect x="655.54" y="51.1" width="4.2" height="4.2" fill="#f01050" stroke="none" stroke-width="1"/>
<rect x="663.06" y="36.7" width="4.2" height="4.2" fill="#f01050" stroke="none" stroke-width="1"/>
<rect x="670.58" y="22.6" width="4.2" height="4.2" fill="#f01050" stroke="none" stroke-width="1"/>
<rect x="678.1" y="8.2" width="4.2" height="4.2" fill="#f01050" stroke="none" stroke-width="1"/>
<path d="M410,232.8 L410.5,232.8 L411,232.8 L411.5,232.8 L412,232.8 L412.5,232.8 L413,232.8 L413.5,232.8 L414,232.8 L414.5,232.8 L415,232.8 L415.5,232.8 L416,232.8 L416.5,232.8 L417,232.8 L417.5,232.8 L418,232.8 L418.5,232.8 L419,232.8 L419.5,232.8 L420,232.8 L420.5,232.8 L421,232.8 L421.5,232.8 L422,232.8 L422.5,232.8 L423,232.8 L423.5,232.8 L424,232.8 L424.5,232.8 L425,232.8 L425.5,232.8 L426,232.8 L426.5,232.8 L427,232.8 L427.5,232.8 L428,232.8 L428.5,232.8 L429,232.8 L429.5,232.8 L430,232.8 L430.5,232.8 L431,232.8 L431.5,232.8 L432,232.8 L432.5,232.8 L433,232.8 L433.5,232.8 L434,232.8 L434.5,232.8 L435,232.8 L435.5,232.8 L436,232.8 L436.5,232.8 L437,232.8 L437.5,232.8 L438,232.8 L438.5,232.8 L439,232.8 L439.5,232.8 L440,232.8 L440.5,232.8 L441,232.8 L441.5,232.8 L442,232.8 L442.5,232.8 L443,232.8 L443.5,232.8 L444,232.8 L444.5,232.8 L445,232.8 L445.5,232.8 L446,232.8 L446.5,232.8 L447,232.8 L447.5,232.8 L448,232.8 L448.5,232.8 L449,232.8 L449.5,232.8 L450,232.8 L450.5,232.8 L451,232.8 L451.5,232.8 L452,232.8 L452.5,232.8 L453,232.8 L453.5,232.8 L454,232.8 L454.5,232.8 L455,232.8 L455.5,232.8 L456,232.8 L456.5,232.8 L457,232.8 L457.5,232.8 L458,232.8 L458.5,232.8 L459,232.8 L459.5,232.8 L460,232.8 L460.5,232.8 L461,232.8 L461.5,232.8 L462,232.8 L462.5,232.8 L463,232.8 L463.5,232.8 L464,232.8 L464.5,232.8 L465,232.8 L465.5,232.8 L466,232.8 L466.5,232.8 L467,232.8 L467.5,232.8 L468,232.8 L468.5,232.8 L469,232.8 L469.5,232.8 L470,232.8 L470.5,232.8 L471,232.8 L471.5,232.8 L472,232.8 L472.5,232.8 L473,232.8 L473.5,232.8 L474,232.8 L474.5,232.8 L475,232.8 L475.5,232.8 L476,232.8 L476.5,232.8 L477,232.8 L477.5,232.8 L478,232.8 L478.5,232.8 L479,232.8 L479.5,232.8 L480,232.8 L480.5,232.8 L481,232.8 L481.5,232.8 L482,232.8 L482.5,232.8 L483,232.8 L483.5,232.8 L484,232.8 L484.5,232.8 L485,232.8 L485.5,232.8 L486,232.8 L486.5,232.8 L487,232.8 L487.5,232.8 L488,232.8 L488.5,232.8 L489,232.8 L489.5,232.8 L490,232.8 L490.5,232.8 L491,232.8 L491.5,232.8 L492,232.8 L492.5,232.8 L493,232.8 L493.5,232.8 L494,232.8 L494.5,232.8 L495,232.8 L495.5,232.8 L496,232.8 L496.5,232.8 L497,232.8 L497.5,232.8 L498,232.8 L498.5,232.8 L499,232.8 L499.5,232.8 L500,232.8 L500.5,232.8 L501,232.8 L501.5,232.8 L502,232.8 L502.5,232.8 L503,232.8 L503.5,232.8 L504,232.8 L504.5,232.8 L505,232.8 L505.5,232.8 L506,232.8 L506.5,232.8 L507,232.8 L507.5,232.8 L508,232.8 L508.5,232.8 L509,232.8 L509.5,232.8 L510,232.8 L510.5,232.8 L511,232.8 L511.5,232.8 L512,232.8 L512.5,232.8 L513,232.8 L513.5,232.8 L514,232.8 L514.5,232.8 L515,232.8 L515.5,232.8 L516,232.8 L516.5,232.8 L517,232.8 L517.5,232.8 L518,232.8 L518.5,232.8 L519,232.8 L519.5,232.8 L520,232.8 L520.5,232.8 L521,232.8 L521.5,232.8 L522,232.8 L522.5,232.8 L523,232.8 L523.5,232.8 L524,232.8 L524.5,232.8 L525,232.8 L525.5,232.8 L526,232.8 L526.5,232.8 L527,232.8 L527.5,232.8 L528,232.8 L528.5,232.8 L529,232.8 L529.5,232.8 L530,232.8 L530.5,232.8 L531,232.8 L531.5,232.8 L532,232.8 L532.5,232.8 L533,232.8 L533.5,232.8 L534,232.8 L534.5,232.8 L535,232.8 L535.5,232.8 L536,232.8 L536.5,232.8 L537,232.8 L537.5,232.8 L538,232.8 L538.5,232.8 L539,232.8 L539.5,232.8 L540,232.8 L540.5,232.8 L541,232.8 L541.5,232.8 L542,232.8 L542.5,232.8 L543,232.8 L543.5,232.8 L544,232.8 L544.5,232.8 L545,232.8 L545.5,232.8 L546,232.8 L546.5,232.8 L547,232.8 L547.5,232.8 L548,232.8 L548.5,232.8 L549,232.8 L549.5,232.8 L550,232.8 L550.5,232.8 L551,232.8 L551.5,232.8 L552,232.8 L552.5,232.8 L553,232.79 L553.5,232.78 L554,232.77 L554.5,232.75 L555,232.72 L555.5,232.69 L556,232.65 L556.5,232.61 L557,232.57 L557.5,232.53 L558,232.48 L558.5,232.44 L559,232.39 L559.5,232.34 L560,232.29 L560.5,232.23 L561,232.17 L561.5,232.09 L562,232.01 L562.5,231.93 L563,231.83 L563.5,231.73 L564,231.63 L564.5,231.52 L565,231.4 L565.5,231.28 L566,231.16 L566.5,231.03 L567,230.9 L567.5,230.77 L568,230.63 L568.5,230.48 L569,230.32 L569.5,230.15 L570,229.98 L570.5,229.79 L571,229.6 L571.5,229.39 L572,229.19 L572.5,228.98 L573,228.76 L573.5,228.54 L574,228.32 L574.5,228.09 L575,227.86 L575.5,227.63 L576,227.39 L576.5,227.14 L577,226.89 L577.5,226.62 L578,226.36 L578.5,226.08 L579,225.8 L579.5,225.51 L580,225.22 L580.5,224.92 L581,224.61 L581.5,224.3 L582,223.98 L582.5,223.66 L583,223.33 L583.5,222.99 L584,222.64 L584.5,222.28 L585,221.92 L585.5,221.54 L586,221.16 L586.5,220.77 L587,220.37 L587.5,219.97 L588,219.56 L588.5,219.14 L589,218.72 L589.5,218.3 L590,217.87 L590.5,217.43 L591,216.97 L591.5,216.51 L592,216.03 L592.5,215.55 L593,215.06 L593.5,214.56 L594,214.05 L594.5,213.55 L595,213.03 L595.5,212.52 L596,212.01 L596.5,211.5 L597,210.99 L597.5,210.48 L598,209.98 L598.5,209.47 L599,208.97 L599.5,208.46 L600,207.95 L600.5,207.44 L601,206.93 L601.5,206.42 L602,205.9 L602.5,205.38 L603,204.85 L603.5,204.32 L604,203.79 L604.5,203.25 L605,202.7 L605.5,202.15 L606,201.59 L606.5,201.02 L607,200.45 L607.5,199.87 L608,199.29 L608.5,198.71 L609,198.12 L609.5,197.53 L610,196.93 L610.5,196.33 L611,195.73 L611.5,195.13 L612,194.53 L612.5,193.92 L613,193.32 L613.5,192.71 L614,192.1 L614.5,191.49 L615,190.87 L615.5,190.25 L616,189.63 L616.5,189.01 L617,188.38 L617.5,187.75 L618,187.12 L618.5,186.48 L619,185.84 L619.5,185.2 L620,184.55 L620.5,183.9 L621,183.24 L621.5,182.58 L622,181.91 L622.5,181.24 L623,180.56 L623.5,179.88 L624,179.2 L624.5,178.52 L625,177.84 L625.5,177.16 L626,176.48 L626.5,175.81 L627,175.14 L627.5,174.48 L628,173.82 L628.5,173.17 L629,172.52 L629.5,171.88 L630,171.24 L630.5,170.6 L631,169.96 L631.5,169.32 L632,168.68 L632.5,168.04 L633,167.4 L633.5,166.76 L634,166.11 L634.5,165.46 L635,164.81 L635.5,164.15 L636,163.48 L636.5,162.82 L637,162.15 L637.5,161.49 L638,160.82 L638.5,160.15 L639,159.47 L639.5,158.8 L640,158.12 L640.5,157.45 L641,156.77 L641.5,156.09 L642,155.41 L642.5,154.74 L643,154.06 L643.5,153.38 L644,152.7 L644.5,152.02 L645,151.34 L645.5,150.66 L646,149.98 L646.5,149.3 L647,148.61 L647.5,147.93 L648,147.24 L648.5,146.55 L649,145.86 L649.5,145.16 L650,144.47 L650.5,143.77 L651,143.07 L651.5,142.36 L652,141.65 L652.5,140.94 L653,140.23 L653.5,139.51 L654,138.8 L654.5,138.08 L655,137.37 L655.5,136.65 L656,135.93 L656.5,135.22 L657,134.51 L657.5,133.8 L658,133.09 L658.5,132.39 L659,131.68 L659.5,130.98 L660,130.28 L660.5,129.57 L661,128.87 L661.5,128.17 L662,127.47 L662.5,126.77 L663,126.06 L663.5,125.36 L664,124.65 L664.5,123.94 L665,123.23 L665.5,122.51 L666,121.8 L666.5,121.08 L667,120.36 L667.5,119.63 L668,118.91 L668.5,118.19 L669,117.46 L669.5,116.73 L670,116 L670.5,115.28 L671,114.55 L671.5,113.82 L672,113.09 L672.5,112.36 L673,111.63 L673.5,110.9 L674,110.17 L674.5,109.44 L675,108.7 L675.5,107.96 L676,107.23 L676.5,106.49 L677,105.76 L677.5,105.02 L678,104.29 L678.5,103.56 L679,102.83 L679.5,102.11 L680,101.39 L680.5,100.67 L681,99.95 L681.5,99.23 L682,98.52 L682.5,97.8 L683,97.09 L683.5,96.37 L684,95.66 L684.5,94.96 L685,94.25 L685.5,93.55 L686,92.86 L686.5,92.17 L687,91.48 L687.5,90.8 L688,90.12 L688.5,89.46 L689,88.8 L689.5,88.15 L690,87.5 L690.5,86.85 L691,86.2" fill="none" stroke="#f01818" stroke-width="1.3" stroke-linejoin="round" stroke-linecap="round"/>
<rect x="414.8" y="230.6" width="4.4" height="4.4" fill="#ff0a0a" stroke="none" stroke-width="1"/>
<rect x="422.32" y="230.6" width="4.4" height="4.4" fill="#ff0a0a" stroke="none" stroke-width="1"/>
<rect x="429.84" y="230.6" width="4.4" height="4.4" fill="#ff0a0a" stroke="none" stroke-width="1"/>
<rect x="437.36" y="230.6" width="4.4" height="4.4" fill="#ff0a0a" stroke="none" stroke-width="1"/>
<rect x="444.88" y="230.6" width="4.4" height="4.4" fill="#ff0a0a" stroke="none" stroke-width="1"/>
<rect x="452.4" y="230.6" width="4.4" height="4.4" fill="#ff0a0a" stroke="none" stroke-width="1"/>
<rect x="459.92" y="230.6" width="4.4" height="4.4" fill="#ff0a0a" stroke="none" stroke-width="1"/>
<rect x="467.44" y="230.6" width="4.4" height="4.4" fill="#ff0a0a" stroke="none" stroke-width="1"/>
<rect x="474.96" y="230.6" width="4.4" height="4.4" fill="#ff0a0a" stroke="none" stroke-width="1"/>
<rect x="482.48" y="230.6" width="4.4" height="4.4" fill="#ff0a0a" stroke="none" stroke-width="1"/>
<rect x="490" y="230.6" width="4.4" height="4.4" fill="#ff0a0a" stroke="none" stroke-width="1"/>
<rect x="497.52" y="230.6" width="4.4" height="4.4" fill="#ff0a0a" stroke="none" stroke-width="1"/>
<rect x="505.04" y="230.6" width="4.4" height="4.4" fill="#ff0a0a" stroke="none" stroke-width="1"/>
<rect x="512.56" y="230.6" width="4.4" height="4.4" fill="#ff0a0a" stroke="none" stroke-width="1"/>
<rect x="520.08" y="230.6" width="4.4" height="4.4" fill="#ff0a0a" stroke="none" stroke-width="1"/>
<rect x="527.6" y="230.6" width="4.4" height="4.4" fill="#ff0a0a" stroke="none" stroke-width="1"/>
<rect x="535.12" y="230.6" width="4.4" height="4.4" fill="#ff0a0a" stroke="none" stroke-width="1"/>
<rect x="542.64" y="230.6" width="4.4" height="4.4" fill="#ff0a0a" stroke="none" stroke-width="1"/>
<rect x="550.16" y="230.6" width="4.4" height="4.4" fill="#ff0a0a" stroke="none" stroke-width="1"/>
<rect x="557.68" y="230.1" width="4.4" height="4.4" fill="#ff0a0a" stroke="none" stroke-width="1"/>
<rect x="565.2" y="228.6" width="4.4" height="4.4" fill="#ff0a0a" stroke="none" stroke-width="1"/>
<rect x="572.72" y="225.7" width="4.4" height="4.4" fill="#ff0a0a" stroke="none" stroke-width="1"/>
<rect x="580.24" y="221.5" width="4.4" height="4.4" fill="#ff0a0a" stroke="none" stroke-width="1"/>
<rect x="587.76" y="215.7" width="4.4" height="4.4" fill="#ff0a0a" stroke="none" stroke-width="1"/>
<rect x="595.28" y="208.3" width="4.4" height="4.4" fill="#ff0a0a" stroke="none" stroke-width="1"/>
<rect x="602.8" y="200.5" width="4.4" height="4.4" fill="#ff0a0a" stroke="none" stroke-width="1"/>
<rect x="610.32" y="191.7" width="4.4" height="4.4" fill="#ff0a0a" stroke="none" stroke-width="1"/>
<rect x="617.84" y="182.3" width="4.4" height="4.4" fill="#ff0a0a" stroke="none" stroke-width="1"/>
<rect x="625.36" y="172.2" width="4.4" height="4.4" fill="#ff0a0a" stroke="none" stroke-width="1"/>
<rect x="632.88" y="162.5" width="4.4" height="4.4" fill="#ff0a0a" stroke="none" stroke-width="1"/>
<rect x="640.4" y="152.4" width="4.4" height="4.4" fill="#ff0a0a" stroke="none" stroke-width="1"/>
<rect x="647.92" y="142.1" width="4.4" height="4.4" fill="#ff0a0a" stroke="none" stroke-width="1"/>
<rect x="655.44" y="131.4" width="4.4" height="4.4" fill="#ff0a0a" stroke="none" stroke-width="1"/>
<rect x="662.96" y="120.8" width="4.4" height="4.4" fill="#ff0a0a" stroke="none" stroke-width="1"/>
<rect x="670.48" y="109.9" width="4.4" height="4.4" fill="#ff0a0a" stroke="none" stroke-width="1"/>
<rect x="678" y="98.9" width="4.4" height="4.4" fill="#ff0a0a" stroke="none" stroke-width="1"/>
<rect x="685.52" y="88.3" width="4.4" height="4.4" fill="#ff0a0a" stroke="none" stroke-width="1"/>
<rect x="410" y="4.6" width="308.6" height="248.9" fill="none" stroke="#444" stroke-width="1.5"/>
<line x1="410" y1="253.5" x2="410" y2="250" stroke="#222" stroke-width="1"/>
<line x1="410" y1="4.6" x2="410" y2="8.1" stroke="#222" stroke-width="1"/>
<line x1="435.75" y1="253.5" x2="435.75" y2="251.5" stroke="#222" stroke-width="1"/>
<line x1="435.75" y1="4.6" x2="435.75" y2="6.6" stroke="#222" stroke-width="1"/>
<line x1="461.5" y1="253.5" x2="461.5" y2="250" stroke="#222" stroke-width="1"/>
<line x1="461.5" y1="4.6" x2="461.5" y2="8.1" stroke="#222" stroke-width="1"/>
<line x1="487.25" y1="253.5" x2="487.25" y2="251.5" stroke="#222" stroke-width="1"/>
<line x1="487.25" y1="4.6" x2="487.25" y2="6.6" stroke="#222" stroke-width="1"/>
<line x1="513" y1="253.5" x2="513" y2="250" stroke="#222" stroke-width="1"/>
<line x1="513" y1="4.6" x2="513" y2="8.1" stroke="#222" stroke-width="1"/>
<line x1="538.75" y1="253.5" x2="538.75" y2="251.5" stroke="#222" stroke-width="1"/>
<line x1="538.75" y1="4.6" x2="538.75" y2="6.6" stroke="#222" stroke-width="1"/>
<line x1="564.5" y1="253.5" x2="564.5" y2="250" stroke="#222" stroke-width="1"/>
<line x1="564.5" y1="4.6" x2="564.5" y2="8.1" stroke="#222" stroke-width="1"/>
<line x1="590.25" y1="253.5" x2="590.25" y2="251.5" stroke="#222" stroke-width="1"/>
<line x1="590.25" y1="4.6" x2="590.25" y2="6.6" stroke="#222" stroke-width="1"/>
<line x1="616" y1="253.5" x2="616" y2="250" stroke="#222" stroke-width="1"/>
<line x1="616" y1="4.6" x2="616" y2="8.1" stroke="#222" stroke-width="1"/>
<line x1="641.75" y1="253.5" x2="641.75" y2="251.5" stroke="#222" stroke-width="1"/>
<line x1="641.75" y1="4.6" x2="641.75" y2="6.6" stroke="#222" stroke-width="1"/>
<line x1="667.5" y1="253.5" x2="667.5" y2="250" stroke="#222" stroke-width="1"/>
<line x1="667.5" y1="4.6" x2="667.5" y2="8.1" stroke="#222" stroke-width="1"/>
<line x1="693.25" y1="253.5" x2="693.25" y2="251.5" stroke="#222" stroke-width="1"/>
<line x1="693.25" y1="4.6" x2="693.25" y2="6.6" stroke="#222" stroke-width="1"/>
<line x1="719" y1="253.5" x2="719" y2="250" stroke="#222" stroke-width="1"/>
<line x1="719" y1="4.6" x2="719" y2="8.1" stroke="#222" stroke-width="1"/>
<line x1="410" y1="232.9" x2="413.5" y2="232.9" stroke="#222" stroke-width="1"/>
<line x1="410" y1="207.45" x2="412" y2="207.45" stroke="#222" stroke-width="1"/>
<line x1="410" y1="182" x2="413.5" y2="182" stroke="#222" stroke-width="1"/>
<line x1="410" y1="156.55" x2="412" y2="156.55" stroke="#222" stroke-width="1"/>
<line x1="410" y1="131.1" x2="413.5" y2="131.1" stroke="#222" stroke-width="1"/>
<line x1="410" y1="105.65" x2="412" y2="105.65" stroke="#222" stroke-width="1"/>
<line x1="410" y1="80.2" x2="413.5" y2="80.2" stroke="#222" stroke-width="1"/>
<line x1="410" y1="54.75" x2="412" y2="54.75" stroke="#222" stroke-width="1"/>
<line x1="410" y1="29.3" x2="413.5" y2="29.3" stroke="#222" stroke-width="1"/>
<text x="410" y="265.2" font-size="10" text-anchor="middle" fill="#111">1.2</text>
<text x="461.5" y="265.2" font-size="10" text-anchor="middle" fill="#111">1.3</text>
<text x="513" y="265.2" font-size="10" text-anchor="middle" fill="#111">1.4</text>
<text x="564.5" y="265.2" font-size="10" text-anchor="middle" fill="#111">1.5</text>
<text x="616" y="265.2" font-size="10" text-anchor="middle" fill="#111">1.6</text>
<text x="667.5" y="265.2" font-size="10" text-anchor="middle" fill="#111">1.7</text>
<text x="719" y="265.2" font-size="10" text-anchor="middle" fill="#111">1.8</text>
<text x="406.8" y="236.5" font-size="10" text-anchor="end" fill="#111">0</text>
<text x="406.8" y="185.6" font-size="10" text-anchor="end" fill="#111">10</text>
<text x="406.8" y="134.7" font-size="10" text-anchor="end" fill="#111">20</text>
<text x="406.8" y="83.8" font-size="10" text-anchor="end" fill="#111">30</text>
<text x="406.8" y="32.9" font-size="10" text-anchor="end" fill="#111">40</text>
<text x="558.3" y="280.2" font-size="11.6" font-weight="bold" text-anchor="middle" fill="#111">Potential (V) vs. RHE</text>
<text x="392.5" y="128" font-size="12.2" font-weight="bold" text-anchor="middle" fill="#111" transform="rotate(-90 392.5 128)">Current density (mAcm<tspan font-size="7.7" dy="-4.6">-2</tspan><tspan dy="4.6">)</tspan></text>
<text x="390.2" y="15.5" font-size="17.2" font-weight="bold" text-anchor="start" fill="#111">b</text>
<line x1="420.6" y1="21.4" x2="442.6" y2="21.4" stroke="#f01818" stroke-width="1.3"/>
<rect x="429.7" y="19.4" width="4" height="4" fill="#ff0a0a" stroke="none" stroke-width="1"/>
<text x="445.2" y="25" font-size="9.4" text-anchor="start" fill="#111">FTO/FeO<tspan font-size="6.5" dy="2.5">x</tspan></text>
<line x1="420.6" y1="35.8" x2="442.6" y2="35.8" stroke="#e020e0" stroke-width="1.3"/>
<rect x="429.7" y="33.8" width="4" height="4" fill="#f01050" stroke="none" stroke-width="1"/>
<text x="445.2" y="39.4" font-size="9.4" text-anchor="start" fill="#111">FTO/Co-FeO<tspan font-size="6.5" dy="2.5">x</tspan></text>
<line x1="604.5" y1="153.5" x2="643" y2="153.5" stroke="#333" stroke-width="0.9"/>
<path d="M601.5,153.5 L606.5,151.3 L606.5,155.7 Z" fill="#111"/>
<text x="630" y="149.3" font-size="10.5" font-weight="bold" text-anchor="middle" fill="#111">80 mV</text>
<rect x="37" y="301.5" width="306.7" height="248" fill="none" stroke="#222" stroke-width="1.3"/>
<line x1="50.93" y1="549.5" x2="50.93" y2="547.5" stroke="#222" stroke-width="1"/>
<line x1="74.16" y1="549.5" x2="74.16" y2="546" stroke="#222" stroke-width="1"/>
<line x1="97.38" y1="549.5" x2="97.38" y2="547.5" stroke="#222" stroke-width="1"/>
<line x1="120.61" y1="549.5" x2="120.61" y2="546" stroke="#222" stroke-width="1"/>
<line x1="143.83" y1="549.5" x2="143.83" y2="547.5" stroke="#222" stroke-width="1"/>
<line x1="167.06" y1="549.5" x2="167.06" y2="546" stroke="#222" stroke-width="1"/>
<line x1="190.28" y1="549.5" x2="190.28" y2="547.5" stroke="#222" stroke-width="1"/>
<line x1="213.51" y1="549.5" x2="213.51" y2="546" stroke="#222" stroke-width="1"/>
<line x1="213.51" y1="301.5" x2="213.51" y2="303.1" stroke="#222" stroke-width="1"/>
<line x1="236.74" y1="549.5" x2="236.74" y2="547.5" stroke="#222" stroke-width="1"/>
<line x1="259.96" y1="549.5" x2="259.96" y2="546" stroke="#222" stroke-width="1"/>
<line x1="259.96" y1="301.5" x2="259.96" y2="303.1" stroke="#222" stroke-width="1"/>
<line x1="283.19" y1="549.5" x2="283.19" y2="547.5" stroke="#222" stroke-width="1"/>
<line x1="306.41" y1="549.5" x2="306.41" y2="546" stroke="#222" stroke-width="1"/>
<line x1="306.41" y1="301.5" x2="306.41" y2="303.1" stroke="#222" stroke-width="1"/>
<line x1="329.63" y1="549.5" x2="329.63" y2="547.5" stroke="#222" stroke-width="1"/>
<line x1="37" y1="521.7" x2="40.5" y2="521.7" stroke="#222" stroke-width="1"/>
<line x1="343.7" y1="521.7" x2="341.5" y2="521.7" stroke="#222" stroke-width="1"/>
<line x1="37" y1="494.18" x2="39" y2="494.18" stroke="#222" stroke-width="1"/>
<line x1="343.7" y1="494.18" x2="342.2" y2="494.18" stroke="#222" stroke-width="1"/>
<line x1="37" y1="466.65" x2="40.5" y2="466.65" stroke="#222" stroke-width="1"/>
<line x1="343.7" y1="466.65" x2="341.5" y2="466.65" stroke="#222" stroke-width="1"/>
<line x1="37" y1="439.12" x2="39" y2="439.12" stroke="#222" stroke-width="1"/>
<line x1="343.7" y1="439.12" x2="342.2" y2="439.12" stroke="#222" stroke-width="1"/>
<line x1="37" y1="411.6" x2="40.5" y2="411.6" stroke="#222" stroke-width="1"/>
<line x1="343.7" y1="411.6" x2="341.5" y2="411.6" stroke="#222" stroke-width="1"/>
<line x1="37" y1="384.08" x2="39" y2="384.08" stroke="#222" stroke-width="1"/>
<line x1="343.7" y1="384.08" x2="342.2" y2="384.08" stroke="#222" stroke-width="1"/>
<line x1="37" y1="356.55" x2="40.5" y2="356.55" stroke="#222" stroke-width="1"/>
<line x1="343.7" y1="356.55" x2="341.5" y2="356.55" stroke="#222" stroke-width="1"/>
<line x1="37" y1="329.03" x2="39" y2="329.03" stroke="#222" stroke-width="1"/>
<line x1="343.7" y1="329.03" x2="342.2" y2="329.03" stroke="#222" stroke-width="1"/>
<line x1="37" y1="301.5" x2="40.5" y2="301.5" stroke="#222" stroke-width="1"/>
<line x1="343.7" y1="301.5" x2="341.5" y2="301.5" stroke="#222" stroke-width="1"/>
<text x="74.16" y="560.3" font-size="9.7" font-weight="bold" text-anchor="middle" fill="#111">-2.0</text>
<text x="120.61" y="560.3" font-size="9.7" font-weight="bold" text-anchor="middle" fill="#111">-1.5</text>
<text x="167.06" y="560.3" font-size="9.7" font-weight="bold" text-anchor="middle" fill="#111">-1.0</text>
<text x="213.51" y="560.3" font-size="9.7" font-weight="bold" text-anchor="middle" fill="#111">-0.5</text>
<text x="259.96" y="560.3" font-size="9.7" font-weight="bold" text-anchor="middle" fill="#111">0.0</text>
<text x="306.41" y="560.3" font-size="9.7" font-weight="bold" text-anchor="middle" fill="#111">0.5</text>
<text x="33" y="525.2" font-size="9.7" font-weight="bold" text-anchor="end" fill="#111">0.20</text>
<text x="33" y="470.15" font-size="9.7" font-weight="bold" text-anchor="end" fill="#111">0.25</text>
<text x="33" y="415.1" font-size="9.7" font-weight="bold" text-anchor="end" fill="#111">0.30</text>
<text x="33" y="360.05" font-size="9.7" font-weight="bold" text-anchor="end" fill="#111">0.35</text>
<text x="33" y="305" font-size="9.7" font-weight="bold" text-anchor="end" fill="#111">0.40</text>
<text x="179.5" y="580.9" font-size="10.45" font-weight="bold" text-anchor="middle" fill="#111">Log (i ), mA.cm<tspan font-size="6.6" dy="-4">-2</tspan></text>
<text x="10.4" y="420.8" font-size="10.6" font-weight="bold" text-anchor="middle" fill="#111" transform="rotate(-90 10.4 420.8)">Overpotential V vs. RHE</text>
<text x="1" y="308.6" font-size="16.5" font-weight="bold" text-anchor="start" fill="#111">c</text>
<line x1="75.5" y1="433.4" x2="195.7" y2="334.1" stroke="#111" stroke-width="1.3"/>
<circle cx="75.5" cy="436.82" r="1.9" fill="#000" stroke="none" stroke-width="1"/>
<circle cx="80.04" cy="431.24" r="1.9" fill="#000" stroke="none" stroke-width="1"/>
<circle cx="85.21" cy="425.66" r="1.9" fill="#000" stroke="none" stroke-width="1"/>
<circle cx="90.58" cy="420.29" r="1.9" fill="#000" stroke="none" stroke-width="1"/>
<circle cx="96.57" cy="414.71" r="1.9" fill="#000" stroke="none" stroke-width="1"/>
<circle cx="102.98" cy="409.55" r="1.9" fill="#000" stroke="none" stroke-width="1"/>
<circle cx="109.59" cy="404.38" r="1.9" fill="#000" stroke="none" stroke-width="1"/>
<circle cx="116.2" cy="398.8" r="1.9" fill="#000" stroke="none" stroke-width="1"/>
<circle cx="123.02" cy="393.43" r="1.9" fill="#000" stroke="none" stroke-width="1"/>
<circle cx="129.83" cy="388.26" r="1.9" fill="#000" stroke="none" stroke-width="1"/>
<circle cx="136.45" cy="382.89" r="1.9" fill="#000" stroke="none" stroke-width="1"/>
<circle cx="143.06" cy="377.52" r="1.9" fill="#000" stroke="none" stroke-width="1"/>
<circle cx="149.88" cy="372.15" r="1.9" fill="#000" stroke="none" stroke-width="1"/>
<circle cx="156.28" cy="366.78" r="1.9" fill="#000" stroke="none" stroke-width="1"/>
<circle cx="162.69" cy="361.4" r="1.9" fill="#000" stroke="none" stroke-width="1"/>
<circle cx="169.5" cy="356.03" r="1.9" fill="#000" stroke="none" stroke-width="1"/>
<circle cx="176.12" cy="350.66" r="1.9" fill="#000" stroke="none" stroke-width="1"/>
<circle cx="182.52" cy="345.08" r="1.9" fill="#000" stroke="none" stroke-width="1"/>
<circle cx="189.13" cy="339.92" r="1.9" fill="#000" stroke="none" stroke-width="1"/>
<circle cx="195.74" cy="334.13" r="1.9" fill="#000" stroke="none" stroke-width="1"/>
<line x1="169" y1="473.8" x2="293" y2="400.2" stroke="#ff1010" stroke-width="1.5"/>
<rect x="167" y="472.3" width="4" height="4" fill="#ff0000" stroke="none" stroke-width="1"/>
<rect x="174.4" y="466.5" width="4" height="4" fill="#ff0000" stroke="none" stroke-width="1"/>
<rect x="183.1" y="461.3" width="4" height="4" fill="#ff0000" stroke="none" stroke-width="1"/>
<rect x="192" y="455.8" width="4" height="4" fill="#ff0000" stroke="none" stroke-width="1"/>
<rect x="201.3" y="450.4" width="4" height="4" fill="#ff0000" stroke="none" stroke-width="1"/>
<rect x="211.6" y="445.2" width="4" height="4" fill="#ff0000" stroke="none" stroke-width="1"/>
<rect x="221.3" y="439.7" width="4" height="4" fill="#ff0000" stroke="none" stroke-width="1"/>
<rect x="231.3" y="434.5" width="4" height="4" fill="#ff0000" stroke="none" stroke-width="1"/>
<rect x="241" y="429.3" width="4" height="4" fill="#ff0000" stroke="none" stroke-width="1"/>
<rect x="250.7" y="423.7" width="4" height="4" fill="#ff0000" stroke="none" stroke-width="1"/>
<rect x="259.6" y="418.6" width="4" height="4" fill="#ff0000" stroke="none" stroke-width="1"/>
<rect x="268.2" y="413.2" width="4" height="4" fill="#ff0000" stroke="none" stroke-width="1"/>
<rect x="276.5" y="407.6" width="4" height="4" fill="#ff0000" stroke="none" stroke-width="1"/>
<rect x="283.7" y="402.5" width="4" height="4" fill="#ff0000" stroke="none" stroke-width="1"/>
<rect x="291" y="396.7" width="4" height="4" fill="#ff0000" stroke="none" stroke-width="1"/>
<line x1="168.2" y1="531.7" x2="268.3" y2="437.2" stroke="#f0901e" stroke-width="1.5"/>
<circle cx="168.2" cy="533.7" r="2" fill="none" stroke="#f7c494" stroke-width="0.7"/>
<circle cx="171.5" cy="527.9" r="2" fill="none" stroke="#f7c494" stroke-width="0.7"/>
<circle cx="176.4" cy="521.6" r="2" fill="none" stroke="#f7c494" stroke-width="0.7"/>
<circle cx="181.4" cy="516.8" r="2" fill="none" stroke="#f7c494" stroke-width="0.7"/>
<circle cx="187.1" cy="511.3" r="2" fill="none" stroke="#f7c494" stroke-width="0.7"/>
<circle cx="193" cy="505.8" r="2" fill="none" stroke="#f7c494" stroke-width="0.7"/>
<circle cx="199" cy="500.6" r="2" fill="none" stroke="#f7c494" stroke-width="0.7"/>
<circle cx="205.6" cy="494.8" r="2" fill="none" stroke="#f7c494" stroke-width="0.7"/>
<circle cx="212.3" cy="489.8" r="2" fill="none" stroke="#f7c494" stroke-width="0.7"/>
<circle cx="219" cy="484.9" r="2" fill="none" stroke="#f7c494" stroke-width="0.7"/>
<circle cx="225.8" cy="479.6" r="2" fill="none" stroke="#f7c494" stroke-width="0.7"/>
<circle cx="231.4" cy="474.6" r="2" fill="none" stroke="#f7c494" stroke-width="0.7"/>
<circle cx="237.2" cy="469.3" r="2" fill="none" stroke="#f7c494" stroke-width="0.7"/>
<circle cx="243" cy="463.9" r="2" fill="none" stroke="#f7c494" stroke-width="0.7"/>
<circle cx="248.4" cy="458.4" r="2" fill="none" stroke="#f7c494" stroke-width="0.7"/>
<circle cx="253.9" cy="452.8" r="2" fill="none" stroke="#f7c494" stroke-width="0.7"/>
<circle cx="258.8" cy="447.6" r="2" fill="none" stroke="#f7c494" stroke-width="0.7"/>
<circle cx="262.4" cy="442" r="2" fill="none" stroke="#f7c494" stroke-width="0.7"/>
<circle cx="265.8" cy="436.3" r="2" fill="none" stroke="#f7c494" stroke-width="0.7"/>
<line x1="232.4" y1="512.6" x2="325.8" y2="445.7" stroke="#e020e0" stroke-width="1.5"/>
<rect x="231.8" y="510" width="3.6" height="3.6" fill="none" stroke="#e070e0" stroke-width="0.7"/>
<rect x="238.1" y="504.6" width="3.6" height="3.6" fill="none" stroke="#e070e0" stroke-width="0.7"/>
<rect x="245.5" y="499.3" width="3.6" height="3.6" fill="none" stroke="#e070e0" stroke-width="0.7"/>
<rect x="253.8" y="493.5" width="3.6" height="3.6" fill="none" stroke="#e070e0" stroke-width="0.7"/>
<rect x="262.5" y="488" width="3.6" height="3.6" fill="none" stroke="#e070e0" stroke-width="0.7"/>
<rect x="271.1" y="482.7" width="3.6" height="3.6" fill="none" stroke="#e070e0" stroke-width="0.7"/>
<rect x="279.1" y="477.8" width="3.6" height="3.6" fill="none" stroke="#e070e0" stroke-width="0.7"/>
<rect x="286.8" y="472" width="3.6" height="3.6" fill="none" stroke="#e070e0" stroke-width="0.7"/>
<rect x="294.3" y="467" width="3.6" height="3.6" fill="none" stroke="#e070e0" stroke-width="0.7"/>
<rect x="300.9" y="461.3" width="3.6" height="3.6" fill="none" stroke="#e070e0" stroke-width="0.7"/>
<rect x="307.5" y="456.3" width="3.6" height="3.6" fill="none" stroke="#e070e0" stroke-width="0.7"/>
<rect x="312.5" y="450.5" width="3.6" height="3.6" fill="none" stroke="#e070e0" stroke-width="0.7"/>
<rect x="318.2" y="445.6" width="3.6" height="3.6" fill="none" stroke="#e070e0" stroke-width="0.7"/>
<rect x="323.2" y="440.6" width="3.6" height="3.6" fill="none" stroke="#e070e0" stroke-width="0.7"/>
<text x="100.3" y="398.5" font-size="10.4" text-anchor="start" fill="#111" transform="rotate(-36 100.3 398.5)">FeOOH 68 mV/s</text>
<text x="195.2" y="441.5" font-size="10.5" text-anchor="start" fill="#e8141c" transform="rotate(-30.5 195.2 441.5)">FeO<tspan font-size="7" dy="3">x</tspan><tspan dy="-3"> 51 mV/s</tspan></text>
<text x="165.5" y="509.5" font-size="10.4" text-anchor="start" fill="#f0901e" transform="rotate(-34 165.5 509.5)">Co-FeOOH 79.4 mV/s</text>
<text x="259.5" y="507" font-size="10.4" text-anchor="start" fill="#e020e0" transform="rotate(-29.5 259.5 507)">Co-FeOx 61.5 mV/s</text>
<rect x="414.7" y="307.6" width="299.8" height="242.5" fill="none" stroke="#222" stroke-width="1.3"/>
<line x1="414.2" y1="550.1" x2="414.2" y2="546.6" stroke="#222" stroke-width="1"/>
<line x1="430.89" y1="550.1" x2="430.89" y2="548.1" stroke="#222" stroke-width="1"/>
<line x1="447.57" y1="550.1" x2="447.57" y2="546.6" stroke="#222" stroke-width="1"/>
<line x1="464.26" y1="550.1" x2="464.26" y2="548.1" stroke="#222" stroke-width="1"/>
<line x1="480.95" y1="550.1" x2="480.95" y2="546.6" stroke="#222" stroke-width="1"/>
<line x1="497.64" y1="550.1" x2="497.64" y2="548.1" stroke="#222" stroke-width="1"/>
<line x1="514.33" y1="550.1" x2="514.33" y2="546.6" stroke="#222" stroke-width="1"/>
<line x1="531.01" y1="550.1" x2="531.01" y2="548.1" stroke="#222" stroke-width="1"/>
<line x1="547.7" y1="550.1" x2="547.7" y2="546.6" stroke="#222" stroke-width="1"/>
<line x1="564.39" y1="550.1" x2="564.39" y2="548.1" stroke="#222" stroke-width="1"/>
<line x1="581.08" y1="550.1" x2="581.08" y2="546.6" stroke="#222" stroke-width="1"/>
<line x1="597.76" y1="550.1" x2="597.76" y2="548.1" stroke="#222" stroke-width="1"/>
<line x1="614.45" y1="550.1" x2="614.45" y2="546.6" stroke="#222" stroke-width="1"/>
<line x1="631.14" y1="550.1" x2="631.14" y2="548.1" stroke="#222" stroke-width="1"/>
<line x1="647.83" y1="550.1" x2="647.83" y2="546.6" stroke="#222" stroke-width="1"/>
<line x1="664.51" y1="550.1" x2="664.51" y2="548.1" stroke="#222" stroke-width="1"/>
<line x1="681.2" y1="550.1" x2="681.2" y2="546.6" stroke="#222" stroke-width="1"/>
<line x1="697.89" y1="550.1" x2="697.89" y2="548.1" stroke="#222" stroke-width="1"/>
<line x1="714.58" y1="550.1" x2="714.58" y2="546.6" stroke="#222" stroke-width="1"/>
<line x1="414.7" y1="550.1" x2="418.2" y2="550.1" stroke="#222" stroke-width="1"/>
<line x1="414.7" y1="525.85" x2="416.7" y2="525.85" stroke="#222" stroke-width="1"/>
<line x1="414.7" y1="501.6" x2="418.2" y2="501.6" stroke="#222" stroke-width="1"/>
<line x1="414.7" y1="477.35" x2="416.7" y2="477.35" stroke="#222" stroke-width="1"/>
<line x1="414.7" y1="453.1" x2="418.2" y2="453.1" stroke="#222" stroke-width="1"/>
<line x1="414.7" y1="428.85" x2="416.7" y2="428.85" stroke="#222" stroke-width="1"/>
<line x1="414.7" y1="404.6" x2="418.2" y2="404.6" stroke="#222" stroke-width="1"/>
<line x1="414.7" y1="380.35" x2="416.7" y2="380.35" stroke="#222" stroke-width="1"/>
<line x1="414.7" y1="356.1" x2="418.2" y2="356.1" stroke="#222" stroke-width="1"/>
<line x1="414.7" y1="331.85" x2="416.7" y2="331.85" stroke="#222" stroke-width="1"/>
<line x1="414.7" y1="307.6" x2="418.2" y2="307.6" stroke="#222" stroke-width="1"/>
<text x="414.2" y="562.6" font-size="10.5" text-anchor="middle" fill="#111">0</text>
<text x="447.57" y="562.6" font-size="10.5" text-anchor="middle" fill="#111">5</text>
<text x="480.95" y="562.6" font-size="10.5" text-anchor="middle" fill="#111">10</text>
<text x="514.33" y="562.6" font-size="10.5" text-anchor="middle" fill="#111">15</text>
<text x="547.7" y="562.6" font-size="10.5" text-anchor="middle" fill="#111">20</text>
<text x="581.08" y="562.6" font-size="10.5" text-anchor="middle" fill="#111">25</text>
<text x="614.45" y="562.6" font-size="10.5" text-anchor="middle" fill="#111">30</text>
<text x="647.83" y="562.6" font-size="10.5" text-anchor="middle" fill="#111">35</text>
<text x="681.2" y="562.6" font-size="10.5" text-anchor="middle" fill="#111">40</text>
<text x="714.58" y="562.6" font-size="10.5" text-anchor="middle" fill="#111">45</text>
<text x="410.6" y="555" font-size="10.5" text-anchor="end" fill="#111">0.0000</text>
<text x="410.6" y="506.5" font-size="10.5" text-anchor="end" fill="#111">0.0005</text>
<text x="410.6" y="458" font-size="10.5" text-anchor="end" fill="#111">0.0010</text>
<text x="410.6" y="409.5" font-size="10.5" text-anchor="end" fill="#111">0.0015</text>
<text x="410.6" y="361" font-size="10.5" text-anchor="end" fill="#111">0.0020</text>
<text x="410.6" y="312.5" font-size="10.5" text-anchor="end" fill="#111">0.0025</text>
<text x="564.5" y="576" font-size="11" font-weight="bold" text-anchor="middle" fill="#111">Scan rate, mVs<tspan font-size="7" dy="-4">-1</tspan></text>
<text x="374.3" y="429.6" font-size="10.2" text-anchor="middle" fill="#111" transform="rotate(-90 374.3 429.6)">j<tspan font-size="7.3" dy="2">anodic</tspan><tspan dy="-2">-j</tspan><tspan font-size="7.3" dy="2">cathodic</tspan><tspan dy="-2"> (mA/cm</tspan><tspan font-size="7.3" dy="-4">2</tspan><tspan dy="4">)</tspan></text>
<text x="368.3" y="316.4" font-size="17" font-weight="bold" text-anchor="start" fill="#111">d</text>
<line x1="447.57" y1="481.5" x2="681.2" y2="328.4" stroke="#e020e0" stroke-width="1.4"/>
<line x1="447.57" y1="534.7" x2="681.2" y2="469.8" stroke="#f01010" stroke-width="1.4"/>
<line x1="447.57" y1="543.6" x2="681.2" y2="489.7" stroke="#1010e0" stroke-width="1.4"/>
<line x1="447.57" y1="542.4" x2="681.2" y2="506.5" stroke="#111" stroke-width="1.4"/>
<rect x="445.77" y="484.2" width="3.6" height="3.6" fill="#fff" stroke="#e050e0" stroke-width="0.8"/>
<rect x="545.9" y="404.2" width="3.6" height="3.6" fill="#fff" stroke="#e050e0" stroke-width="0.8"/>
<rect x="612.65" y="368.8" width="3.6" height="3.6" fill="#fff" stroke="#e050e0" stroke-width="0.8"/>
<rect x="679.4" y="330.4" width="3.6" height="3.6" fill="#fff" stroke="#e050e0" stroke-width="0.8"/>
<rect x="445.57" y="527.3" width="4" height="4" fill="#ff0000" stroke="none" stroke-width="1"/>
<rect x="545.7" y="514.9" width="4" height="4" fill="#ff0000" stroke="none" stroke-width="1"/>
<rect x="612.45" y="484.7" width="4" height="4" fill="#ff0000" stroke="none" stroke-width="1"/>
<rect x="679.2" y="465.4" width="4" height="4" fill="#ff0000" stroke="none" stroke-width="1"/>
<path d="M447.57,541.2 L450.38,546.1 L444.77,546.1 Z" fill="#1010ee"/>
<path d="M547.7,517.8 L550.5,522.7 L544.9,522.7 Z" fill="#1010ee"/>
<path d="M614.45,502.9 L617.25,507.8 L611.65,507.8 Z" fill="#1010ee"/>
<path d="M681.2,485.5 L684,490.4 L678.4,490.4 Z" fill="#1010ee"/>
<circle cx="447.57" cy="540.4" r="2.1" fill="#000" stroke="none" stroke-width="1"/>
<circle cx="547.7" cy="527.6" r="2.1" fill="#000" stroke="none" stroke-width="1"/>
<circle cx="614.45" cy="521.2" r="2.1" fill="#000" stroke="none" stroke-width="1"/>
<circle cx="681.2" cy="502.6" r="2.1" fill="#000" stroke="none" stroke-width="1"/>
<text x="578.8" y="411" font-size="10.5" font-weight="bold" text-anchor="start" fill="#e020e0" transform="rotate(-29.5 578.8 411)">Co-FeO<tspan font-size="7" dy="3">x</tspan><tspan dy="-3"> 45 mF</tspan></text>
<text x="533.5" y="501.3" font-size="10.35" font-weight="bold" text-anchor="start" fill="#e8141c" transform="rotate(-15.5 533.5 501.3)">FeO<tspan font-size="7" dy="3.2">x</tspan><tspan dy="-3.2"> 19 mF</tspan></text>
<text x="593.5" y="508" font-size="10.1" font-weight="bold" text-anchor="start" fill="#1a1ad0" transform="rotate(-14.5 593.5 508)">FeOOH 10.9 mF</text>
<text x="596" y="537.3" font-size="10.4" font-weight="bold" text-anchor="start" fill="#111" transform="rotate(-4 596 537.3)">Fe<tspan font-size="6.5" dy="2.5">2</tspan><tspan dy="-2.5">O</tspan><tspan font-size="6.5" dy="2.5">3</tspan><tspan dy="-2.5"> 10.7 mF</tspan></text>
<rect x="232.6" y="829.01" width="25.8" height="27.99" fill="#ff0000" stroke="none" stroke-width="1"/>
<text x="232.6" y="867.6" font-size="9.8" font-weight="bold" text-anchor="middle" fill="#111">FeOOH</text>
<rect x="271.8" y="838.32" width="25.8" height="18.68" fill="#808080" stroke="none" stroke-width="1"/>
<rect x="297.6" y="813.78" width="25.8" height="43.22" fill="#ff0000" stroke="none" stroke-width="1"/>
<text x="297.6" y="867.6" font-size="9.8" font-weight="bold" text-anchor="middle" fill="#111">Fe2O3</text>
<rect x="336.8" y="836.91" width="25.8" height="20.09" fill="#808080" stroke="none" stroke-width="1"/>
<rect x="362.6" y="808.19" width="25.8" height="48.81" fill="#ff0000" stroke="none" stroke-width="1"/>
<text x="362.6" y="867.6" font-size="9.8" font-weight="bold" text-anchor="middle" fill="#111">Co-FeOOH</text>
<rect x="401.8" y="814.31" width="25.8" height="42.69" fill="#808080" stroke="none" stroke-width="1"/>
<rect x="427.6" y="705.01" width="25.8" height="151.99" fill="#ff0000" stroke="none" stroke-width="1"/>
<text x="427.6" y="867.6" font-size="9.8" font-weight="bold" text-anchor="middle" fill="#111">FeOx</text>
<rect x="466.8" y="748.28" width="25.8" height="108.72" fill="#808080" stroke="none" stroke-width="1"/>
<rect x="492.6" y="606.02" width="25.8" height="250.98" fill="#ff0000" stroke="none" stroke-width="1"/>
<text x="492.6" y="867.6" font-size="9.8" font-weight="bold" text-anchor="middle" fill="#111">Co-FeOx</text>
<rect x="200" y="595.4" width="325" height="261.6" fill="none" stroke="#222" stroke-width="1.3"/>
<line x1="200" y1="857" x2="203.5" y2="857" stroke="#222" stroke-width="1"/>
<line x1="200" y1="830.84" x2="202" y2="830.84" stroke="#222" stroke-width="1"/>
<line x1="200" y1="804.68" x2="203.5" y2="804.68" stroke="#222" stroke-width="1"/>
<line x1="200" y1="778.52" x2="202" y2="778.52" stroke="#222" stroke-width="1"/>
<line x1="200" y1="752.36" x2="203.5" y2="752.36" stroke="#222" stroke-width="1"/>
<line x1="200" y1="726.2" x2="202" y2="726.2" stroke="#222" stroke-width="1"/>
<line x1="200" y1="700.04" x2="203.5" y2="700.04" stroke="#222" stroke-width="1"/>
<line x1="200" y1="673.88" x2="202" y2="673.88" stroke="#222" stroke-width="1"/>
<line x1="200" y1="647.72" x2="203.5" y2="647.72" stroke="#222" stroke-width="1"/>
<line x1="200" y1="621.56" x2="202" y2="621.56" stroke="#222" stroke-width="1"/>
<line x1="200" y1="595.4" x2="203.5" y2="595.4" stroke="#222" stroke-width="1"/>
<text x="196.9" y="859.5" font-size="9.4" font-weight="bold" text-anchor="end" fill="#111">0</text>
<text x="196.9" y="807.18" font-size="9.4" font-weight="bold" text-anchor="end" fill="#111">10</text>
<text x="196.9" y="754.86" font-size="9.4" font-weight="bold" text-anchor="end" fill="#111">20</text>
<text x="196.9" y="702.54" font-size="9.4" font-weight="bold" text-anchor="end" fill="#111">30</text>
<text x="196.9" y="650.22" font-size="9.4" font-weight="bold" text-anchor="end" fill="#111">40</text>
<text x="196.9" y="597.9" font-size="9.4" font-weight="bold" text-anchor="end" fill="#111">50</text>
<text x="180.4" y="727.7" font-size="11.5" font-weight="bold" text-anchor="middle" fill="#111" transform="rotate(-90 180.4 727.7)">Current density (mA.cm<tspan font-size="7.2" dy="-4.4">-2</tspan><tspan dy="4.4">)</tspan></text>
<text x="168.5" y="602.2" font-size="15.5" font-weight="bold" text-anchor="start" fill="#111">e</text>
<rect x="217.3" y="602" width="24.7" height="12.2" fill="#808080" stroke="none" stroke-width="1"/>
<rect x="217.3" y="616.2" width="24.7" height="12" fill="#ff0000" stroke="none" stroke-width="1"/>
<text x="245.5" y="612.2" font-size="11.2" text-anchor="start" fill="#111">1.5 V vs RHE</text>
<text x="245.5" y="626" font-size="11.2" text-anchor="start" fill="#111">1.7 V vs RHE</text>
</svg>
</body></html>
